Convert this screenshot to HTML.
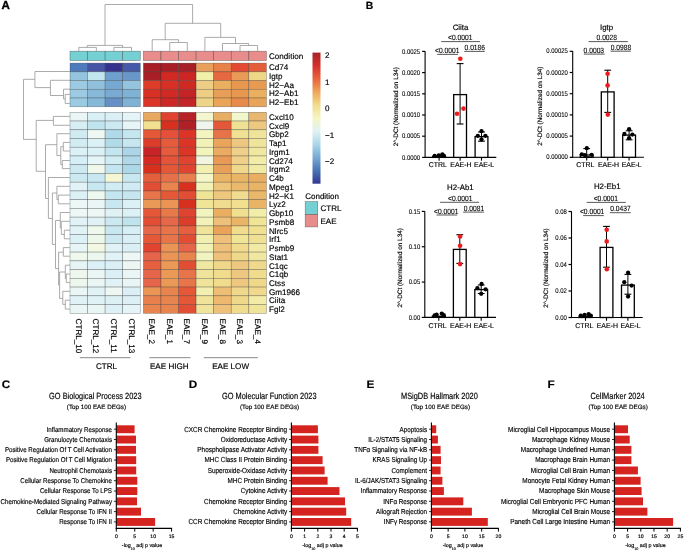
<!DOCTYPE html>
<html><head><meta charset="utf-8"><title>Figure</title>
<style>
html,body{margin:0;padding:0;background:#fff;}
svg{display:block;will-change:transform;filter:blur(0.3px);}
svg text{font-family:"Liberation Sans", sans-serif;fill:#000;stroke:#000;stroke-width:0.16px;text-rendering:geometricPrecision;}
</style></head>
<body>
<svg width="685" height="552" viewBox="0 0 685 552">
<rect width="685" height="552" fill="#fff"/>
<g>
<rect x="70.00" y="63.10" width="17.57" height="8.73" fill="#4F7BBD" stroke="rgba(40,40,40,0.45)" stroke-width="0.6" />
<rect x="87.57" y="63.10" width="17.57" height="8.73" fill="#4655A6" stroke="rgba(40,40,40,0.45)" stroke-width="0.6" />
<rect x="105.14" y="63.10" width="17.57" height="8.73" fill="#35318C" stroke="rgba(40,40,40,0.45)" stroke-width="0.6" />
<rect x="122.71" y="63.10" width="17.57" height="8.73" fill="#4658A8" stroke="rgba(40,40,40,0.45)" stroke-width="0.6" />
<rect x="143.40" y="63.10" width="17.57" height="8.73" fill="#A81E26" stroke="rgba(40,40,40,0.45)" stroke-width="0.6" />
<rect x="160.97" y="63.10" width="17.57" height="8.73" fill="#A81E26" stroke="rgba(40,40,40,0.45)" stroke-width="0.6" />
<rect x="178.54" y="63.10" width="17.57" height="8.73" fill="#A81E26" stroke="rgba(40,40,40,0.45)" stroke-width="0.6" />
<rect x="196.11" y="63.10" width="17.57" height="8.73" fill="#E8A05C" stroke="rgba(40,40,40,0.45)" stroke-width="0.6" />
<rect x="213.68" y="63.10" width="17.57" height="8.73" fill="#E8804A" stroke="rgba(40,40,40,0.45)" stroke-width="0.6" />
<rect x="231.25" y="63.10" width="17.57" height="8.73" fill="#E44A32" stroke="rgba(40,40,40,0.45)" stroke-width="0.6" />
<rect x="248.82" y="63.10" width="17.57" height="8.73" fill="#E45E3A" stroke="rgba(40,40,40,0.45)" stroke-width="0.6" />
<rect x="70.00" y="71.83" width="17.57" height="8.73" fill="#94C4DE" stroke="rgba(40,40,40,0.45)" stroke-width="0.6" />
<rect x="87.57" y="71.83" width="17.57" height="8.73" fill="#C2E6EE" stroke="rgba(40,40,40,0.45)" stroke-width="0.6" />
<rect x="105.14" y="71.83" width="17.57" height="8.73" fill="#6E9FCE" stroke="rgba(40,40,40,0.45)" stroke-width="0.6" />
<rect x="122.71" y="71.83" width="17.57" height="8.73" fill="#6A97CA" stroke="rgba(40,40,40,0.45)" stroke-width="0.6" />
<rect x="143.40" y="71.83" width="17.57" height="8.73" fill="#A81E26" stroke="rgba(40,40,40,0.45)" stroke-width="0.6" />
<rect x="160.97" y="71.83" width="17.57" height="8.73" fill="#D22A22" stroke="rgba(40,40,40,0.45)" stroke-width="0.6" />
<rect x="178.54" y="71.83" width="17.57" height="8.73" fill="#CC2624" stroke="rgba(40,40,40,0.45)" stroke-width="0.6" />
<rect x="196.11" y="71.83" width="17.57" height="8.73" fill="#F2F0A8" stroke="rgba(40,40,40,0.45)" stroke-width="0.6" />
<rect x="213.68" y="71.83" width="17.57" height="8.73" fill="#E66840" stroke="rgba(40,40,40,0.45)" stroke-width="0.6" />
<rect x="231.25" y="71.83" width="17.57" height="8.73" fill="#E89A56" stroke="rgba(40,40,40,0.45)" stroke-width="0.6" />
<rect x="248.82" y="71.83" width="17.57" height="8.73" fill="#EED888" stroke="rgba(40,40,40,0.45)" stroke-width="0.6" />
<rect x="70.00" y="80.56" width="17.57" height="8.73" fill="#9CCAE2" stroke="rgba(40,40,40,0.45)" stroke-width="0.6" />
<rect x="87.57" y="80.56" width="17.57" height="8.73" fill="#90C0DC" stroke="rgba(40,40,40,0.45)" stroke-width="0.6" />
<rect x="105.14" y="80.56" width="17.57" height="8.73" fill="#76A9D2" stroke="rgba(40,40,40,0.45)" stroke-width="0.6" />
<rect x="122.71" y="80.56" width="17.57" height="8.73" fill="#94C4DE" stroke="rgba(40,40,40,0.45)" stroke-width="0.6" />
<rect x="143.40" y="80.56" width="17.57" height="8.73" fill="#DC3C28" stroke="rgba(40,40,40,0.45)" stroke-width="0.6" />
<rect x="160.97" y="80.56" width="17.57" height="8.73" fill="#D83024" stroke="rgba(40,40,40,0.45)" stroke-width="0.6" />
<rect x="178.54" y="80.56" width="17.57" height="8.73" fill="#CE2A24" stroke="rgba(40,40,40,0.45)" stroke-width="0.6" />
<rect x="196.11" y="80.56" width="17.57" height="8.73" fill="#EECE84" stroke="rgba(40,40,40,0.45)" stroke-width="0.6" />
<rect x="213.68" y="80.56" width="17.57" height="8.73" fill="#EAB060" stroke="rgba(40,40,40,0.45)" stroke-width="0.6" />
<rect x="231.25" y="80.56" width="17.57" height="8.73" fill="#E8984E" stroke="rgba(40,40,40,0.45)" stroke-width="0.6" />
<rect x="248.82" y="80.56" width="17.57" height="8.73" fill="#E89A52" stroke="rgba(40,40,40,0.45)" stroke-width="0.6" />
<rect x="70.00" y="89.29" width="17.57" height="8.73" fill="#9CCAE2" stroke="rgba(40,40,40,0.45)" stroke-width="0.6" />
<rect x="87.57" y="89.29" width="17.57" height="8.73" fill="#88B9D8" stroke="rgba(40,40,40,0.45)" stroke-width="0.6" />
<rect x="105.14" y="89.29" width="17.57" height="8.73" fill="#78AAD2" stroke="rgba(40,40,40,0.45)" stroke-width="0.6" />
<rect x="122.71" y="89.29" width="17.57" height="8.73" fill="#80B2D6" stroke="rgba(40,40,40,0.45)" stroke-width="0.6" />
<rect x="143.40" y="89.29" width="17.57" height="8.73" fill="#D83024" stroke="rgba(40,40,40,0.45)" stroke-width="0.6" />
<rect x="160.97" y="89.29" width="17.57" height="8.73" fill="#D02A24" stroke="rgba(40,40,40,0.45)" stroke-width="0.6" />
<rect x="178.54" y="89.29" width="17.57" height="8.73" fill="#C42426" stroke="rgba(40,40,40,0.45)" stroke-width="0.6" />
<rect x="196.11" y="89.29" width="17.57" height="8.73" fill="#EECE84" stroke="rgba(40,40,40,0.45)" stroke-width="0.6" />
<rect x="213.68" y="89.29" width="17.57" height="8.73" fill="#E89E58" stroke="rgba(40,40,40,0.45)" stroke-width="0.6" />
<rect x="231.25" y="89.29" width="17.57" height="8.73" fill="#E8984E" stroke="rgba(40,40,40,0.45)" stroke-width="0.6" />
<rect x="248.82" y="89.29" width="17.57" height="8.73" fill="#EAB060" stroke="rgba(40,40,40,0.45)" stroke-width="0.6" />
<rect x="70.00" y="98.02" width="17.57" height="8.73" fill="#9CCAE2" stroke="rgba(40,40,40,0.45)" stroke-width="0.6" />
<rect x="87.57" y="98.02" width="17.57" height="8.73" fill="#86B8D8" stroke="rgba(40,40,40,0.45)" stroke-width="0.6" />
<rect x="105.14" y="98.02" width="17.57" height="8.73" fill="#6690C6" stroke="rgba(40,40,40,0.45)" stroke-width="0.6" />
<rect x="122.71" y="98.02" width="17.57" height="8.73" fill="#80B2D6" stroke="rgba(40,40,40,0.45)" stroke-width="0.6" />
<rect x="143.40" y="98.02" width="17.57" height="8.73" fill="#DC3428" stroke="rgba(40,40,40,0.45)" stroke-width="0.6" />
<rect x="160.97" y="98.02" width="17.57" height="8.73" fill="#CC2826" stroke="rgba(40,40,40,0.45)" stroke-width="0.6" />
<rect x="178.54" y="98.02" width="17.57" height="8.73" fill="#C22428" stroke="rgba(40,40,40,0.45)" stroke-width="0.6" />
<rect x="196.11" y="98.02" width="17.57" height="8.73" fill="#EED488" stroke="rgba(40,40,40,0.45)" stroke-width="0.6" />
<rect x="213.68" y="98.02" width="17.57" height="8.73" fill="#EAA458" stroke="rgba(40,40,40,0.45)" stroke-width="0.6" />
<rect x="231.25" y="98.02" width="17.57" height="8.73" fill="#E88A4C" stroke="rgba(40,40,40,0.45)" stroke-width="0.6" />
<rect x="248.82" y="98.02" width="17.57" height="8.73" fill="#E8A458" stroke="rgba(40,40,40,0.45)" stroke-width="0.6" />
<rect x="70.00" y="112.30" width="17.57" height="8.74" fill="#EAF6F6" stroke="rgba(40,40,40,0.45)" stroke-width="0.6" />
<rect x="87.57" y="112.30" width="17.57" height="8.74" fill="#D8F0F6" stroke="rgba(40,40,40,0.45)" stroke-width="0.6" />
<rect x="105.14" y="112.30" width="17.57" height="8.74" fill="#DAF0F6" stroke="rgba(40,40,40,0.45)" stroke-width="0.6" />
<rect x="122.71" y="112.30" width="17.57" height="8.74" fill="#E4F4F8" stroke="rgba(40,40,40,0.45)" stroke-width="0.6" />
<rect x="143.40" y="112.30" width="17.57" height="8.74" fill="#E8AA60" stroke="rgba(40,40,40,0.45)" stroke-width="0.6" />
<rect x="160.97" y="112.30" width="17.57" height="8.74" fill="#E04430" stroke="rgba(40,40,40,0.45)" stroke-width="0.6" />
<rect x="178.54" y="112.30" width="17.57" height="8.74" fill="#B82226" stroke="rgba(40,40,40,0.45)" stroke-width="0.6" />
<rect x="196.11" y="112.30" width="17.57" height="8.74" fill="#F4F6D0" stroke="rgba(40,40,40,0.45)" stroke-width="0.6" />
<rect x="213.68" y="112.30" width="17.57" height="8.74" fill="#E8AE66" stroke="rgba(40,40,40,0.45)" stroke-width="0.6" />
<rect x="231.25" y="112.30" width="17.57" height="8.74" fill="#F2F6CC" stroke="rgba(40,40,40,0.45)" stroke-width="0.6" />
<rect x="248.82" y="112.30" width="17.57" height="8.74" fill="#E8B870" stroke="rgba(40,40,40,0.45)" stroke-width="0.6" />
<rect x="70.00" y="121.04" width="17.57" height="8.74" fill="#D8EEF5" stroke="rgba(40,40,40,0.45)" stroke-width="0.6" />
<rect x="87.57" y="121.04" width="17.57" height="8.74" fill="#C0E4EE" stroke="rgba(40,40,40,0.45)" stroke-width="0.6" />
<rect x="105.14" y="121.04" width="17.57" height="8.74" fill="#CCE9F2" stroke="rgba(40,40,40,0.45)" stroke-width="0.6" />
<rect x="122.71" y="121.04" width="17.57" height="8.74" fill="#E6F5F8" stroke="rgba(40,40,40,0.45)" stroke-width="0.6" />
<rect x="143.40" y="121.04" width="17.57" height="8.74" fill="#F0E090" stroke="rgba(40,40,40,0.45)" stroke-width="0.6" />
<rect x="160.97" y="121.04" width="17.57" height="8.74" fill="#D8301F" stroke="rgba(40,40,40,0.45)" stroke-width="0.6" />
<rect x="178.54" y="121.04" width="17.57" height="8.74" fill="#B02026" stroke="rgba(40,40,40,0.45)" stroke-width="0.6" />
<rect x="196.11" y="121.04" width="17.57" height="8.74" fill="#F0F6EE" stroke="rgba(40,40,40,0.45)" stroke-width="0.6" />
<rect x="213.68" y="121.04" width="17.57" height="8.74" fill="#E25838" stroke="rgba(40,40,40,0.45)" stroke-width="0.6" />
<rect x="231.25" y="121.04" width="17.57" height="8.74" fill="#F0E294" stroke="rgba(40,40,40,0.45)" stroke-width="0.6" />
<rect x="248.82" y="121.04" width="17.57" height="8.74" fill="#EEC880" stroke="rgba(40,40,40,0.45)" stroke-width="0.6" />
<rect x="70.00" y="129.78" width="17.57" height="8.74" fill="#D0EBF2" stroke="rgba(40,40,40,0.45)" stroke-width="0.6" />
<rect x="87.57" y="129.78" width="17.57" height="8.74" fill="#EEF8F4" stroke="rgba(40,40,40,0.45)" stroke-width="0.6" />
<rect x="105.14" y="129.78" width="17.57" height="8.74" fill="#B0DAEA" stroke="rgba(40,40,40,0.45)" stroke-width="0.6" />
<rect x="122.71" y="129.78" width="17.57" height="8.74" fill="#C4E6EF" stroke="rgba(40,40,40,0.45)" stroke-width="0.6" />
<rect x="143.40" y="129.78" width="17.57" height="8.74" fill="#E45838" stroke="rgba(40,40,40,0.45)" stroke-width="0.6" />
<rect x="160.97" y="129.78" width="17.57" height="8.74" fill="#E4503A" stroke="rgba(40,40,40,0.45)" stroke-width="0.6" />
<rect x="178.54" y="129.78" width="17.57" height="8.74" fill="#DC3426" stroke="rgba(40,40,40,0.45)" stroke-width="0.6" />
<rect x="196.11" y="129.78" width="17.57" height="8.74" fill="#F4F4C0" stroke="rgba(40,40,40,0.45)" stroke-width="0.6" />
<rect x="213.68" y="129.78" width="17.57" height="8.74" fill="#E67448" stroke="rgba(40,40,40,0.45)" stroke-width="0.6" />
<rect x="231.25" y="129.78" width="17.57" height="8.74" fill="#F0E292" stroke="rgba(40,40,40,0.45)" stroke-width="0.6" />
<rect x="248.82" y="129.78" width="17.57" height="8.74" fill="#F0E49A" stroke="rgba(40,40,40,0.45)" stroke-width="0.6" />
<rect x="70.00" y="138.52" width="17.57" height="8.74" fill="#D2ECF4" stroke="rgba(40,40,40,0.45)" stroke-width="0.6" />
<rect x="87.57" y="138.52" width="17.57" height="8.74" fill="#DCF1F6" stroke="rgba(40,40,40,0.45)" stroke-width="0.6" />
<rect x="105.14" y="138.52" width="17.57" height="8.74" fill="#B2DBEA" stroke="rgba(40,40,40,0.45)" stroke-width="0.6" />
<rect x="122.71" y="138.52" width="17.57" height="8.74" fill="#C6E6F0" stroke="rgba(40,40,40,0.45)" stroke-width="0.6" />
<rect x="143.40" y="138.52" width="17.57" height="8.74" fill="#DC3C2A" stroke="rgba(40,40,40,0.45)" stroke-width="0.6" />
<rect x="160.97" y="138.52" width="17.57" height="8.74" fill="#E45C3C" stroke="rgba(40,40,40,0.45)" stroke-width="0.6" />
<rect x="178.54" y="138.52" width="17.57" height="8.74" fill="#DC3426" stroke="rgba(40,40,40,0.45)" stroke-width="0.6" />
<rect x="196.11" y="138.52" width="17.57" height="8.74" fill="#F2F2B8" stroke="rgba(40,40,40,0.45)" stroke-width="0.6" />
<rect x="213.68" y="138.52" width="17.57" height="8.74" fill="#EAA45C" stroke="rgba(40,40,40,0.45)" stroke-width="0.6" />
<rect x="231.25" y="138.52" width="17.57" height="8.74" fill="#EEC880" stroke="rgba(40,40,40,0.45)" stroke-width="0.6" />
<rect x="248.82" y="138.52" width="17.57" height="8.74" fill="#F0E49C" stroke="rgba(40,40,40,0.45)" stroke-width="0.6" />
<rect x="70.00" y="147.26" width="17.57" height="8.74" fill="#DCF1F6" stroke="rgba(40,40,40,0.45)" stroke-width="0.6" />
<rect x="87.57" y="147.26" width="17.57" height="8.74" fill="#DCF1F6" stroke="rgba(40,40,40,0.45)" stroke-width="0.6" />
<rect x="105.14" y="147.26" width="17.57" height="8.74" fill="#C4E6F0" stroke="rgba(40,40,40,0.45)" stroke-width="0.6" />
<rect x="122.71" y="147.26" width="17.57" height="8.74" fill="#ACD6E8" stroke="rgba(40,40,40,0.45)" stroke-width="0.6" />
<rect x="143.40" y="147.26" width="17.57" height="8.74" fill="#C82428" stroke="rgba(40,40,40,0.45)" stroke-width="0.6" />
<rect x="160.97" y="147.26" width="17.57" height="8.74" fill="#E45C3C" stroke="rgba(40,40,40,0.45)" stroke-width="0.6" />
<rect x="178.54" y="147.26" width="17.57" height="8.74" fill="#DC3426" stroke="rgba(40,40,40,0.45)" stroke-width="0.6" />
<rect x="196.11" y="147.26" width="17.57" height="8.74" fill="#F2F4BC" stroke="rgba(40,40,40,0.45)" stroke-width="0.6" />
<rect x="213.68" y="147.26" width="17.57" height="8.74" fill="#EAAC62" stroke="rgba(40,40,40,0.45)" stroke-width="0.6" />
<rect x="231.25" y="147.26" width="17.57" height="8.74" fill="#EED08A" stroke="rgba(40,40,40,0.45)" stroke-width="0.6" />
<rect x="248.82" y="147.26" width="17.57" height="8.74" fill="#F0E8A0" stroke="rgba(40,40,40,0.45)" stroke-width="0.6" />
<rect x="70.00" y="156.00" width="17.57" height="8.74" fill="#D6EEF5" stroke="rgba(40,40,40,0.45)" stroke-width="0.6" />
<rect x="87.57" y="156.00" width="17.57" height="8.74" fill="#E6F5F7" stroke="rgba(40,40,40,0.45)" stroke-width="0.6" />
<rect x="105.14" y="156.00" width="17.57" height="8.74" fill="#D2ECF4" stroke="rgba(40,40,40,0.45)" stroke-width="0.6" />
<rect x="122.71" y="156.00" width="17.57" height="8.74" fill="#B0D8E9" stroke="rgba(40,40,40,0.45)" stroke-width="0.6" />
<rect x="143.40" y="156.00" width="17.57" height="8.74" fill="#D42A24" stroke="rgba(40,40,40,0.45)" stroke-width="0.6" />
<rect x="160.97" y="156.00" width="17.57" height="8.74" fill="#E4543A" stroke="rgba(40,40,40,0.45)" stroke-width="0.6" />
<rect x="178.54" y="156.00" width="17.57" height="8.74" fill="#E04430" stroke="rgba(40,40,40,0.45)" stroke-width="0.6" />
<rect x="196.11" y="156.00" width="17.57" height="8.74" fill="#F2F6E0" stroke="rgba(40,40,40,0.45)" stroke-width="0.6" />
<rect x="213.68" y="156.00" width="17.57" height="8.74" fill="#E89A56" stroke="rgba(40,40,40,0.45)" stroke-width="0.6" />
<rect x="231.25" y="156.00" width="17.57" height="8.74" fill="#EED088" stroke="rgba(40,40,40,0.45)" stroke-width="0.6" />
<rect x="248.82" y="156.00" width="17.57" height="8.74" fill="#F2ECA8" stroke="rgba(40,40,40,0.45)" stroke-width="0.6" />
<rect x="70.00" y="164.73" width="17.57" height="8.74" fill="#CCE9F2" stroke="rgba(40,40,40,0.45)" stroke-width="0.6" />
<rect x="87.57" y="164.73" width="17.57" height="8.74" fill="#F0F8EC" stroke="rgba(40,40,40,0.45)" stroke-width="0.6" />
<rect x="105.14" y="164.73" width="17.57" height="8.74" fill="#C4E6F0" stroke="rgba(40,40,40,0.45)" stroke-width="0.6" />
<rect x="122.71" y="164.73" width="17.57" height="8.74" fill="#ACD8E8" stroke="rgba(40,40,40,0.45)" stroke-width="0.6" />
<rect x="143.40" y="164.73" width="17.57" height="8.74" fill="#D8301F" stroke="rgba(40,40,40,0.45)" stroke-width="0.6" />
<rect x="160.97" y="164.73" width="17.57" height="8.74" fill="#E45838" stroke="rgba(40,40,40,0.45)" stroke-width="0.6" />
<rect x="178.54" y="164.73" width="17.57" height="8.74" fill="#E04430" stroke="rgba(40,40,40,0.45)" stroke-width="0.6" />
<rect x="196.11" y="164.73" width="17.57" height="8.74" fill="#F2F0B0" stroke="rgba(40,40,40,0.45)" stroke-width="0.6" />
<rect x="213.68" y="164.73" width="17.57" height="8.74" fill="#E8A058" stroke="rgba(40,40,40,0.45)" stroke-width="0.6" />
<rect x="231.25" y="164.73" width="17.57" height="8.74" fill="#F0D88C" stroke="rgba(40,40,40,0.45)" stroke-width="0.6" />
<rect x="248.82" y="164.73" width="17.57" height="8.74" fill="#F0EAA4" stroke="rgba(40,40,40,0.45)" stroke-width="0.6" />
<rect x="70.00" y="173.47" width="17.57" height="8.74" fill="#CCE9F2" stroke="rgba(40,40,40,0.45)" stroke-width="0.6" />
<rect x="87.57" y="173.47" width="17.57" height="8.74" fill="#C8E7F1" stroke="rgba(40,40,40,0.45)" stroke-width="0.6" />
<rect x="105.14" y="173.47" width="17.57" height="8.74" fill="#F4F6D4" stroke="rgba(40,40,40,0.45)" stroke-width="0.6" />
<rect x="122.71" y="173.47" width="17.57" height="8.74" fill="#C8E8F1" stroke="rgba(40,40,40,0.45)" stroke-width="0.6" />
<rect x="143.40" y="173.47" width="17.57" height="8.74" fill="#E4603C" stroke="rgba(40,40,40,0.45)" stroke-width="0.6" />
<rect x="160.97" y="173.47" width="17.57" height="8.74" fill="#E6704A" stroke="rgba(40,40,40,0.45)" stroke-width="0.6" />
<rect x="178.54" y="173.47" width="17.57" height="8.74" fill="#E8804E" stroke="rgba(40,40,40,0.45)" stroke-width="0.6" />
<rect x="196.11" y="173.47" width="17.57" height="8.74" fill="#F4F6C8" stroke="rgba(40,40,40,0.45)" stroke-width="0.6" />
<rect x="213.68" y="173.47" width="17.57" height="8.74" fill="#EAB466" stroke="rgba(40,40,40,0.45)" stroke-width="0.6" />
<rect x="231.25" y="173.47" width="17.57" height="8.74" fill="#EAB466" stroke="rgba(40,40,40,0.45)" stroke-width="0.6" />
<rect x="248.82" y="173.47" width="17.57" height="8.74" fill="#EAAE62" stroke="rgba(40,40,40,0.45)" stroke-width="0.6" />
<rect x="70.00" y="182.21" width="17.57" height="8.74" fill="#E2F3F7" stroke="rgba(40,40,40,0.45)" stroke-width="0.6" />
<rect x="87.57" y="182.21" width="17.57" height="8.74" fill="#C8E8F1" stroke="rgba(40,40,40,0.45)" stroke-width="0.6" />
<rect x="105.14" y="182.21" width="17.57" height="8.74" fill="#D2ECF4" stroke="rgba(40,40,40,0.45)" stroke-width="0.6" />
<rect x="122.71" y="182.21" width="17.57" height="8.74" fill="#D0EBF3" stroke="rgba(40,40,40,0.45)" stroke-width="0.6" />
<rect x="143.40" y="182.21" width="17.57" height="8.74" fill="#E24E34" stroke="rgba(40,40,40,0.45)" stroke-width="0.6" />
<rect x="160.97" y="182.21" width="17.57" height="8.74" fill="#E8844E" stroke="rgba(40,40,40,0.45)" stroke-width="0.6" />
<rect x="178.54" y="182.21" width="17.57" height="8.74" fill="#D8301F" stroke="rgba(40,40,40,0.45)" stroke-width="0.6" />
<rect x="196.11" y="182.21" width="17.57" height="8.74" fill="#F2F2B8" stroke="rgba(40,40,40,0.45)" stroke-width="0.6" />
<rect x="213.68" y="182.21" width="17.57" height="8.74" fill="#EEC47A" stroke="rgba(40,40,40,0.45)" stroke-width="0.6" />
<rect x="231.25" y="182.21" width="17.57" height="8.74" fill="#EABA6C" stroke="rgba(40,40,40,0.45)" stroke-width="0.6" />
<rect x="248.82" y="182.21" width="17.57" height="8.74" fill="#EAB466" stroke="rgba(40,40,40,0.45)" stroke-width="0.6" />
<rect x="70.00" y="190.95" width="17.57" height="8.74" fill="#DCF1F6" stroke="rgba(40,40,40,0.45)" stroke-width="0.6" />
<rect x="87.57" y="190.95" width="17.57" height="8.74" fill="#EEF8EE" stroke="rgba(40,40,40,0.45)" stroke-width="0.6" />
<rect x="105.14" y="190.95" width="17.57" height="8.74" fill="#C4E6F0" stroke="rgba(40,40,40,0.45)" stroke-width="0.6" />
<rect x="122.71" y="190.95" width="17.57" height="8.74" fill="#C6E6F0" stroke="rgba(40,40,40,0.45)" stroke-width="0.6" />
<rect x="143.40" y="190.95" width="17.57" height="8.74" fill="#E8744A" stroke="rgba(40,40,40,0.45)" stroke-width="0.6" />
<rect x="160.97" y="190.95" width="17.57" height="8.74" fill="#E45838" stroke="rgba(40,40,40,0.45)" stroke-width="0.6" />
<rect x="178.54" y="190.95" width="17.57" height="8.74" fill="#E24E34" stroke="rgba(40,40,40,0.45)" stroke-width="0.6" />
<rect x="196.11" y="190.95" width="17.57" height="8.74" fill="#F0E496" stroke="rgba(40,40,40,0.45)" stroke-width="0.6" />
<rect x="213.68" y="190.95" width="17.57" height="8.74" fill="#EEC87E" stroke="rgba(40,40,40,0.45)" stroke-width="0.6" />
<rect x="231.25" y="190.95" width="17.57" height="8.74" fill="#F0DC90" stroke="rgba(40,40,40,0.45)" stroke-width="0.6" />
<rect x="248.82" y="190.95" width="17.57" height="8.74" fill="#EAB86A" stroke="rgba(40,40,40,0.45)" stroke-width="0.6" />
<rect x="70.00" y="199.69" width="17.57" height="8.74" fill="#ECF7F6" stroke="rgba(40,40,40,0.45)" stroke-width="0.6" />
<rect x="87.57" y="199.69" width="17.57" height="8.74" fill="#EAF6F6" stroke="rgba(40,40,40,0.45)" stroke-width="0.6" />
<rect x="105.14" y="199.69" width="17.57" height="8.74" fill="#C8E7F1" stroke="rgba(40,40,40,0.45)" stroke-width="0.6" />
<rect x="122.71" y="199.69" width="17.57" height="8.74" fill="#DCF1F6" stroke="rgba(40,40,40,0.45)" stroke-width="0.6" />
<rect x="143.40" y="199.69" width="17.57" height="8.74" fill="#EA9A56" stroke="rgba(40,40,40,0.45)" stroke-width="0.6" />
<rect x="160.97" y="199.69" width="17.57" height="8.74" fill="#EA9455" stroke="rgba(40,40,40,0.45)" stroke-width="0.6" />
<rect x="178.54" y="199.69" width="17.57" height="8.74" fill="#D8301F" stroke="rgba(40,40,40,0.45)" stroke-width="0.6" />
<rect x="196.11" y="199.69" width="17.57" height="8.74" fill="#F0E496" stroke="rgba(40,40,40,0.45)" stroke-width="0.6" />
<rect x="213.68" y="199.69" width="17.57" height="8.74" fill="#F0DC90" stroke="rgba(40,40,40,0.45)" stroke-width="0.6" />
<rect x="231.25" y="199.69" width="17.57" height="8.74" fill="#F0E090" stroke="rgba(40,40,40,0.45)" stroke-width="0.6" />
<rect x="248.82" y="199.69" width="17.57" height="8.74" fill="#EAB466" stroke="rgba(40,40,40,0.45)" stroke-width="0.6" />
<rect x="70.00" y="208.43" width="17.57" height="8.74" fill="#ECF7F6" stroke="rgba(40,40,40,0.45)" stroke-width="0.6" />
<rect x="87.57" y="208.43" width="17.57" height="8.74" fill="#ECF7F6" stroke="rgba(40,40,40,0.45)" stroke-width="0.6" />
<rect x="105.14" y="208.43" width="17.57" height="8.74" fill="#E0F2F6" stroke="rgba(40,40,40,0.45)" stroke-width="0.6" />
<rect x="122.71" y="208.43" width="17.57" height="8.74" fill="#DCF1F6" stroke="rgba(40,40,40,0.45)" stroke-width="0.6" />
<rect x="143.40" y="208.43" width="17.57" height="8.74" fill="#E45838" stroke="rgba(40,40,40,0.45)" stroke-width="0.6" />
<rect x="160.97" y="208.43" width="17.57" height="8.74" fill="#E87A4A" stroke="rgba(40,40,40,0.45)" stroke-width="0.6" />
<rect x="178.54" y="208.43" width="17.57" height="8.74" fill="#E04430" stroke="rgba(40,40,40,0.45)" stroke-width="0.6" />
<rect x="196.11" y="208.43" width="17.57" height="8.74" fill="#F2F4C0" stroke="rgba(40,40,40,0.45)" stroke-width="0.6" />
<rect x="213.68" y="208.43" width="17.57" height="8.74" fill="#EAAE62" stroke="rgba(40,40,40,0.45)" stroke-width="0.6" />
<rect x="231.25" y="208.43" width="17.57" height="8.74" fill="#F0E090" stroke="rgba(40,40,40,0.45)" stroke-width="0.6" />
<rect x="248.82" y="208.43" width="17.57" height="8.74" fill="#F2EEAA" stroke="rgba(40,40,40,0.45)" stroke-width="0.6" />
<rect x="70.00" y="217.17" width="17.57" height="8.74" fill="#E2F3F7" stroke="rgba(40,40,40,0.45)" stroke-width="0.6" />
<rect x="87.57" y="217.17" width="17.57" height="8.74" fill="#E0F2F6" stroke="rgba(40,40,40,0.45)" stroke-width="0.6" />
<rect x="105.14" y="217.17" width="17.57" height="8.74" fill="#CCE9F2" stroke="rgba(40,40,40,0.45)" stroke-width="0.6" />
<rect x="122.71" y="217.17" width="17.57" height="8.74" fill="#C0E4EE" stroke="rgba(40,40,40,0.45)" stroke-width="0.6" />
<rect x="143.40" y="217.17" width="17.57" height="8.74" fill="#E24E34" stroke="rgba(40,40,40,0.45)" stroke-width="0.6" />
<rect x="160.97" y="217.17" width="17.57" height="8.74" fill="#E6684A" stroke="rgba(40,40,40,0.45)" stroke-width="0.6" />
<rect x="178.54" y="217.17" width="17.57" height="8.74" fill="#DC3C2A" stroke="rgba(40,40,40,0.45)" stroke-width="0.6" />
<rect x="196.11" y="217.17" width="17.57" height="8.74" fill="#F2F2B8" stroke="rgba(40,40,40,0.45)" stroke-width="0.6" />
<rect x="213.68" y="217.17" width="17.57" height="8.74" fill="#EEC07A" stroke="rgba(40,40,40,0.45)" stroke-width="0.6" />
<rect x="231.25" y="217.17" width="17.57" height="8.74" fill="#EAB466" stroke="rgba(40,40,40,0.45)" stroke-width="0.6" />
<rect x="248.82" y="217.17" width="17.57" height="8.74" fill="#F0E496" stroke="rgba(40,40,40,0.45)" stroke-width="0.6" />
<rect x="70.00" y="225.91" width="17.57" height="8.74" fill="#E2F3F7" stroke="rgba(40,40,40,0.45)" stroke-width="0.6" />
<rect x="87.57" y="225.91" width="17.57" height="8.74" fill="#EEF8EC" stroke="rgba(40,40,40,0.45)" stroke-width="0.6" />
<rect x="105.14" y="225.91" width="17.57" height="8.74" fill="#C8E7F1" stroke="rgba(40,40,40,0.45)" stroke-width="0.6" />
<rect x="122.71" y="225.91" width="17.57" height="8.74" fill="#D6EEF5" stroke="rgba(40,40,40,0.45)" stroke-width="0.6" />
<rect x="143.40" y="225.91" width="17.57" height="8.74" fill="#E6684A" stroke="rgba(40,40,40,0.45)" stroke-width="0.6" />
<rect x="160.97" y="225.91" width="17.57" height="8.74" fill="#E8744A" stroke="rgba(40,40,40,0.45)" stroke-width="0.6" />
<rect x="178.54" y="225.91" width="17.57" height="8.74" fill="#E66040" stroke="rgba(40,40,40,0.45)" stroke-width="0.6" />
<rect x="196.11" y="225.91" width="17.57" height="8.74" fill="#F0E49A" stroke="rgba(40,40,40,0.45)" stroke-width="0.6" />
<rect x="213.68" y="225.91" width="17.57" height="8.74" fill="#EAA45A" stroke="rgba(40,40,40,0.45)" stroke-width="0.6" />
<rect x="231.25" y="225.91" width="17.57" height="8.74" fill="#F0DC8C" stroke="rgba(40,40,40,0.45)" stroke-width="0.6" />
<rect x="248.82" y="225.91" width="17.57" height="8.74" fill="#F0E090" stroke="rgba(40,40,40,0.45)" stroke-width="0.6" />
<rect x="70.00" y="234.65" width="17.57" height="8.74" fill="#DCF1F6" stroke="rgba(40,40,40,0.45)" stroke-width="0.6" />
<rect x="87.57" y="234.65" width="17.57" height="8.74" fill="#EEF8EA" stroke="rgba(40,40,40,0.45)" stroke-width="0.6" />
<rect x="105.14" y="234.65" width="17.57" height="8.74" fill="#CCE9F2" stroke="rgba(40,40,40,0.45)" stroke-width="0.6" />
<rect x="122.71" y="234.65" width="17.57" height="8.74" fill="#D8EFF5" stroke="rgba(40,40,40,0.45)" stroke-width="0.6" />
<rect x="143.40" y="234.65" width="17.57" height="8.74" fill="#E45838" stroke="rgba(40,40,40,0.45)" stroke-width="0.6" />
<rect x="160.97" y="234.65" width="17.57" height="8.74" fill="#E8744A" stroke="rgba(40,40,40,0.45)" stroke-width="0.6" />
<rect x="178.54" y="234.65" width="17.57" height="8.74" fill="#E24E34" stroke="rgba(40,40,40,0.45)" stroke-width="0.6" />
<rect x="196.11" y="234.65" width="17.57" height="8.74" fill="#F2F0B0" stroke="rgba(40,40,40,0.45)" stroke-width="0.6" />
<rect x="213.68" y="234.65" width="17.57" height="8.74" fill="#EEC07A" stroke="rgba(40,40,40,0.45)" stroke-width="0.6" />
<rect x="231.25" y="234.65" width="17.57" height="8.74" fill="#F0E496" stroke="rgba(40,40,40,0.45)" stroke-width="0.6" />
<rect x="248.82" y="234.65" width="17.57" height="8.74" fill="#F0E094" stroke="rgba(40,40,40,0.45)" stroke-width="0.6" />
<rect x="70.00" y="243.38" width="17.57" height="8.74" fill="#E8F5F6" stroke="rgba(40,40,40,0.45)" stroke-width="0.6" />
<rect x="87.57" y="243.38" width="17.57" height="8.74" fill="#F2F8E4" stroke="rgba(40,40,40,0.45)" stroke-width="0.6" />
<rect x="105.14" y="243.38" width="17.57" height="8.74" fill="#E0F2F6" stroke="rgba(40,40,40,0.45)" stroke-width="0.6" />
<rect x="122.71" y="243.38" width="17.57" height="8.74" fill="#DAF0F5" stroke="rgba(40,40,40,0.45)" stroke-width="0.6" />
<rect x="143.40" y="243.38" width="17.57" height="8.74" fill="#E04430" stroke="rgba(40,40,40,0.45)" stroke-width="0.6" />
<rect x="160.97" y="243.38" width="17.57" height="8.74" fill="#EA9455" stroke="rgba(40,40,40,0.45)" stroke-width="0.6" />
<rect x="178.54" y="243.38" width="17.57" height="8.74" fill="#E6644A" stroke="rgba(40,40,40,0.45)" stroke-width="0.6" />
<rect x="196.11" y="243.38" width="17.57" height="8.74" fill="#F2F2B6" stroke="rgba(40,40,40,0.45)" stroke-width="0.6" />
<rect x="213.68" y="243.38" width="17.57" height="8.74" fill="#EEC07A" stroke="rgba(40,40,40,0.45)" stroke-width="0.6" />
<rect x="231.25" y="243.38" width="17.57" height="8.74" fill="#F0DC8C" stroke="rgba(40,40,40,0.45)" stroke-width="0.6" />
<rect x="248.82" y="243.38" width="17.57" height="8.74" fill="#F2EAA4" stroke="rgba(40,40,40,0.45)" stroke-width="0.6" />
<rect x="70.00" y="252.12" width="17.57" height="8.74" fill="#EEF8EC" stroke="rgba(40,40,40,0.45)" stroke-width="0.6" />
<rect x="87.57" y="252.12" width="17.57" height="8.74" fill="#ECF7F0" stroke="rgba(40,40,40,0.45)" stroke-width="0.6" />
<rect x="105.14" y="252.12" width="17.57" height="8.74" fill="#E2F3F7" stroke="rgba(40,40,40,0.45)" stroke-width="0.6" />
<rect x="122.71" y="252.12" width="17.57" height="8.74" fill="#ECF7F6" stroke="rgba(40,40,40,0.45)" stroke-width="0.6" />
<rect x="143.40" y="252.12" width="17.57" height="8.74" fill="#E6644A" stroke="rgba(40,40,40,0.45)" stroke-width="0.6" />
<rect x="160.97" y="252.12" width="17.57" height="8.74" fill="#EA9455" stroke="rgba(40,40,40,0.45)" stroke-width="0.6" />
<rect x="178.54" y="252.12" width="17.57" height="8.74" fill="#E8844E" stroke="rgba(40,40,40,0.45)" stroke-width="0.6" />
<rect x="196.11" y="252.12" width="17.57" height="8.74" fill="#F2F4C0" stroke="rgba(40,40,40,0.45)" stroke-width="0.6" />
<rect x="213.68" y="252.12" width="17.57" height="8.74" fill="#EEC07A" stroke="rgba(40,40,40,0.45)" stroke-width="0.6" />
<rect x="231.25" y="252.12" width="17.57" height="8.74" fill="#F0D88A" stroke="rgba(40,40,40,0.45)" stroke-width="0.6" />
<rect x="248.82" y="252.12" width="17.57" height="8.74" fill="#F0E8A0" stroke="rgba(40,40,40,0.45)" stroke-width="0.6" />
<rect x="70.00" y="260.86" width="17.57" height="8.74" fill="#E6F4F6" stroke="rgba(40,40,40,0.45)" stroke-width="0.6" />
<rect x="87.57" y="260.86" width="17.57" height="8.74" fill="#DCF0F8" stroke="rgba(40,40,40,0.45)" stroke-width="0.6" />
<rect x="105.14" y="260.86" width="17.57" height="8.74" fill="#DAF0F6" stroke="rgba(40,40,40,0.45)" stroke-width="0.6" />
<rect x="122.71" y="260.86" width="17.57" height="8.74" fill="#ECF7F4" stroke="rgba(40,40,40,0.45)" stroke-width="0.6" />
<rect x="143.40" y="260.86" width="17.57" height="8.74" fill="#E66040" stroke="rgba(40,40,40,0.45)" stroke-width="0.6" />
<rect x="160.97" y="260.86" width="17.57" height="8.74" fill="#EA9A56" stroke="rgba(40,40,40,0.45)" stroke-width="0.6" />
<rect x="178.54" y="260.86" width="17.57" height="8.74" fill="#E24E34" stroke="rgba(40,40,40,0.45)" stroke-width="0.6" />
<rect x="196.11" y="260.86" width="17.57" height="8.74" fill="#F0E8A0" stroke="rgba(40,40,40,0.45)" stroke-width="0.6" />
<rect x="213.68" y="260.86" width="17.57" height="8.74" fill="#F0D88A" stroke="rgba(40,40,40,0.45)" stroke-width="0.6" />
<rect x="231.25" y="260.86" width="17.57" height="8.74" fill="#EEC880" stroke="rgba(40,40,40,0.45)" stroke-width="0.6" />
<rect x="248.82" y="260.86" width="17.57" height="8.74" fill="#F0D88C" stroke="rgba(40,40,40,0.45)" stroke-width="0.6" />
<rect x="70.00" y="269.60" width="17.57" height="8.74" fill="#EEF7EE" stroke="rgba(40,40,40,0.45)" stroke-width="0.6" />
<rect x="87.57" y="269.60" width="17.57" height="8.74" fill="#EAF6F6" stroke="rgba(40,40,40,0.45)" stroke-width="0.6" />
<rect x="105.14" y="269.60" width="17.57" height="8.74" fill="#DAF0F6" stroke="rgba(40,40,40,0.45)" stroke-width="0.6" />
<rect x="122.71" y="269.60" width="17.57" height="8.74" fill="#EAF6F6" stroke="rgba(40,40,40,0.45)" stroke-width="0.6" />
<rect x="143.40" y="269.60" width="17.57" height="8.74" fill="#E6644A" stroke="rgba(40,40,40,0.45)" stroke-width="0.6" />
<rect x="160.97" y="269.60" width="17.57" height="8.74" fill="#EA9A56" stroke="rgba(40,40,40,0.45)" stroke-width="0.6" />
<rect x="178.54" y="269.60" width="17.57" height="8.74" fill="#E8744A" stroke="rgba(40,40,40,0.45)" stroke-width="0.6" />
<rect x="196.11" y="269.60" width="17.57" height="8.74" fill="#F0E49A" stroke="rgba(40,40,40,0.45)" stroke-width="0.6" />
<rect x="213.68" y="269.60" width="17.57" height="8.74" fill="#F0DC8C" stroke="rgba(40,40,40,0.45)" stroke-width="0.6" />
<rect x="231.25" y="269.60" width="17.57" height="8.74" fill="#EEC880" stroke="rgba(40,40,40,0.45)" stroke-width="0.6" />
<rect x="248.82" y="269.60" width="17.57" height="8.74" fill="#F0DC8C" stroke="rgba(40,40,40,0.45)" stroke-width="0.6" />
<rect x="70.00" y="278.34" width="17.57" height="8.74" fill="#EEF7EE" stroke="rgba(40,40,40,0.45)" stroke-width="0.6" />
<rect x="87.57" y="278.34" width="17.57" height="8.74" fill="#EAF6F6" stroke="rgba(40,40,40,0.45)" stroke-width="0.6" />
<rect x="105.14" y="278.34" width="17.57" height="8.74" fill="#E0F2F6" stroke="rgba(40,40,40,0.45)" stroke-width="0.6" />
<rect x="122.71" y="278.34" width="17.57" height="8.74" fill="#EAF6F6" stroke="rgba(40,40,40,0.45)" stroke-width="0.6" />
<rect x="143.40" y="278.34" width="17.57" height="8.74" fill="#E6644A" stroke="rgba(40,40,40,0.45)" stroke-width="0.6" />
<rect x="160.97" y="278.34" width="17.57" height="8.74" fill="#EA9A56" stroke="rgba(40,40,40,0.45)" stroke-width="0.6" />
<rect x="178.54" y="278.34" width="17.57" height="8.74" fill="#E8744A" stroke="rgba(40,40,40,0.45)" stroke-width="0.6" />
<rect x="196.11" y="278.34" width="17.57" height="8.74" fill="#F0E49A" stroke="rgba(40,40,40,0.45)" stroke-width="0.6" />
<rect x="213.68" y="278.34" width="17.57" height="8.74" fill="#F0DC8C" stroke="rgba(40,40,40,0.45)" stroke-width="0.6" />
<rect x="231.25" y="278.34" width="17.57" height="8.74" fill="#EEC880" stroke="rgba(40,40,40,0.45)" stroke-width="0.6" />
<rect x="248.82" y="278.34" width="17.57" height="8.74" fill="#F0D88A" stroke="rgba(40,40,40,0.45)" stroke-width="0.6" />
<rect x="70.00" y="287.08" width="17.57" height="8.74" fill="#EAF6F6" stroke="rgba(40,40,40,0.45)" stroke-width="0.6" />
<rect x="87.57" y="287.08" width="17.57" height="8.74" fill="#E0F2F6" stroke="rgba(40,40,40,0.45)" stroke-width="0.6" />
<rect x="105.14" y="287.08" width="17.57" height="8.74" fill="#EEF7F2" stroke="rgba(40,40,40,0.45)" stroke-width="0.6" />
<rect x="122.71" y="287.08" width="17.57" height="8.74" fill="#DAF0F6" stroke="rgba(40,40,40,0.45)" stroke-width="0.6" />
<rect x="143.40" y="287.08" width="17.57" height="8.74" fill="#EA9455" stroke="rgba(40,40,40,0.45)" stroke-width="0.6" />
<rect x="160.97" y="287.08" width="17.57" height="8.74" fill="#E8844E" stroke="rgba(40,40,40,0.45)" stroke-width="0.6" />
<rect x="178.54" y="287.08" width="17.57" height="8.74" fill="#E45838" stroke="rgba(40,40,40,0.45)" stroke-width="0.6" />
<rect x="196.11" y="287.08" width="17.57" height="8.74" fill="#F2F0B0" stroke="rgba(40,40,40,0.45)" stroke-width="0.6" />
<rect x="213.68" y="287.08" width="17.57" height="8.74" fill="#EEBE74" stroke="rgba(40,40,40,0.45)" stroke-width="0.6" />
<rect x="231.25" y="287.08" width="17.57" height="8.74" fill="#F0D88A" stroke="rgba(40,40,40,0.45)" stroke-width="0.6" />
<rect x="248.82" y="287.08" width="17.57" height="8.74" fill="#F0D88C" stroke="rgba(40,40,40,0.45)" stroke-width="0.6" />
<rect x="70.00" y="295.82" width="17.57" height="8.74" fill="#E0F2F6" stroke="rgba(40,40,40,0.45)" stroke-width="0.6" />
<rect x="87.57" y="295.82" width="17.57" height="8.74" fill="#E0F2F6" stroke="rgba(40,40,40,0.45)" stroke-width="0.6" />
<rect x="105.14" y="295.82" width="17.57" height="8.74" fill="#DCF0F6" stroke="rgba(40,40,40,0.45)" stroke-width="0.6" />
<rect x="122.71" y="295.82" width="17.57" height="8.74" fill="#DCF0F6" stroke="rgba(40,40,40,0.45)" stroke-width="0.6" />
<rect x="143.40" y="295.82" width="17.57" height="8.74" fill="#E8804E" stroke="rgba(40,40,40,0.45)" stroke-width="0.6" />
<rect x="160.97" y="295.82" width="17.57" height="8.74" fill="#E8844E" stroke="rgba(40,40,40,0.45)" stroke-width="0.6" />
<rect x="178.54" y="295.82" width="17.57" height="8.74" fill="#E45838" stroke="rgba(40,40,40,0.45)" stroke-width="0.6" />
<rect x="196.11" y="295.82" width="17.57" height="8.74" fill="#F0E49A" stroke="rgba(40,40,40,0.45)" stroke-width="0.6" />
<rect x="213.68" y="295.82" width="17.57" height="8.74" fill="#EEB870" stroke="rgba(40,40,40,0.45)" stroke-width="0.6" />
<rect x="231.25" y="295.82" width="17.57" height="8.74" fill="#F0D88A" stroke="rgba(40,40,40,0.45)" stroke-width="0.6" />
<rect x="248.82" y="295.82" width="17.57" height="8.74" fill="#F2ECA8" stroke="rgba(40,40,40,0.45)" stroke-width="0.6" />
<rect x="70.00" y="304.56" width="17.57" height="8.74" fill="#EAF6F6" stroke="rgba(40,40,40,0.45)" stroke-width="0.6" />
<rect x="87.57" y="304.56" width="17.57" height="8.74" fill="#EAF6F4" stroke="rgba(40,40,40,0.45)" stroke-width="0.6" />
<rect x="105.14" y="304.56" width="17.57" height="8.74" fill="#DCF0F6" stroke="rgba(40,40,40,0.45)" stroke-width="0.6" />
<rect x="122.71" y="304.56" width="17.57" height="8.74" fill="#E4F4F8" stroke="rgba(40,40,40,0.45)" stroke-width="0.6" />
<rect x="143.40" y="304.56" width="17.57" height="8.74" fill="#E8844E" stroke="rgba(40,40,40,0.45)" stroke-width="0.6" />
<rect x="160.97" y="304.56" width="17.57" height="8.74" fill="#E8844E" stroke="rgba(40,40,40,0.45)" stroke-width="0.6" />
<rect x="178.54" y="304.56" width="17.57" height="8.74" fill="#E24E34" stroke="rgba(40,40,40,0.45)" stroke-width="0.6" />
<rect x="196.11" y="304.56" width="17.57" height="8.74" fill="#F0E49A" stroke="rgba(40,40,40,0.45)" stroke-width="0.6" />
<rect x="213.68" y="304.56" width="17.57" height="8.74" fill="#EEC07A" stroke="rgba(40,40,40,0.45)" stroke-width="0.6" />
<rect x="231.25" y="304.56" width="17.57" height="8.74" fill="#F0DC8C" stroke="rgba(40,40,40,0.45)" stroke-width="0.6" />
<rect x="248.82" y="304.56" width="17.57" height="8.74" fill="#F0E49A" stroke="rgba(40,40,40,0.45)" stroke-width="0.6" />
</g>
<rect x="70.00" y="51.20" width="17.57" height="9.30" fill="#74D0D2" stroke="rgba(60,60,60,0.6)" stroke-width="0.6" />
<rect x="87.57" y="51.20" width="17.57" height="9.30" fill="#74D0D2" stroke="rgba(60,60,60,0.6)" stroke-width="0.6" />
<rect x="105.14" y="51.20" width="17.57" height="9.30" fill="#74D0D2" stroke="rgba(60,60,60,0.6)" stroke-width="0.6" />
<rect x="122.71" y="51.20" width="17.57" height="9.30" fill="#74D0D2" stroke="rgba(60,60,60,0.6)" stroke-width="0.6" />
<rect x="143.40" y="51.20" width="17.57" height="9.30" fill="#E88C8C" stroke="rgba(60,60,60,0.6)" stroke-width="0.6" />
<rect x="160.97" y="51.20" width="17.57" height="9.30" fill="#E88C8C" stroke="rgba(60,60,60,0.6)" stroke-width="0.6" />
<rect x="178.54" y="51.20" width="17.57" height="9.30" fill="#E88C8C" stroke="rgba(60,60,60,0.6)" stroke-width="0.6" />
<rect x="196.11" y="51.20" width="17.57" height="9.30" fill="#E88C8C" stroke="rgba(60,60,60,0.6)" stroke-width="0.6" />
<rect x="213.68" y="51.20" width="17.57" height="9.30" fill="#E88C8C" stroke="rgba(60,60,60,0.6)" stroke-width="0.6" />
<rect x="231.25" y="51.20" width="17.57" height="9.30" fill="#E88C8C" stroke="rgba(60,60,60,0.6)" stroke-width="0.6" />
<rect x="248.82" y="51.20" width="17.57" height="9.30" fill="#E88C8C" stroke="rgba(60,60,60,0.6)" stroke-width="0.6" />
<text transform="translate(269.00,70.27) scale(1.0,1)" font-size="8.100" text-anchor="start" >Cd74</text>
<text transform="translate(269.00,78.99) scale(1.0,1)" font-size="8.100" text-anchor="start" >Igtp</text>
<text transform="translate(269.00,87.72) scale(1.0,1)" font-size="8.100" text-anchor="start" >H2−Aa</text>
<text transform="translate(269.00,96.45) scale(1.0,1)" font-size="8.100" text-anchor="start" >H2−Ab1</text>
<text transform="translate(269.00,105.19) scale(1.0,1)" font-size="8.100" text-anchor="start" >H2−Eb1</text>
<text transform="translate(269.00,119.97) scale(1.0,1)" font-size="8.100" text-anchor="start" >Cxcl10</text>
<text transform="translate(269.00,128.71) scale(1.0,1)" font-size="8.100" text-anchor="start" >Cxcl9</text>
<text transform="translate(269.00,137.45) scale(1.0,1)" font-size="8.100" text-anchor="start" >Gbp2</text>
<text transform="translate(269.00,146.19) scale(1.0,1)" font-size="8.100" text-anchor="start" >Tap1</text>
<text transform="translate(269.00,154.93) scale(1.0,1)" font-size="8.100" text-anchor="start" >Irgm1</text>
<text transform="translate(269.00,163.66) scale(1.0,1)" font-size="8.100" text-anchor="start" >Cd274</text>
<text transform="translate(269.00,172.40) scale(1.0,1)" font-size="8.100" text-anchor="start" >Irgm2</text>
<text transform="translate(269.00,181.14) scale(1.0,1)" font-size="8.100" text-anchor="start" >C4b</text>
<text transform="translate(269.00,189.88) scale(1.0,1)" font-size="8.100" text-anchor="start" >Mpeg1</text>
<text transform="translate(269.00,198.62) scale(1.0,1)" font-size="8.100" text-anchor="start" >H2−K1</text>
<text transform="translate(269.00,207.36) scale(1.0,1)" font-size="8.100" text-anchor="start" >Lyz2</text>
<text transform="translate(269.00,216.10) scale(1.0,1)" font-size="8.100" text-anchor="start" >Gbp10</text>
<text transform="translate(269.00,224.84) scale(1.0,1)" font-size="8.100" text-anchor="start" >Psmb8</text>
<text transform="translate(269.00,233.58) scale(1.0,1)" font-size="8.100" text-anchor="start" >Nlrc5</text>
<text transform="translate(269.00,242.32) scale(1.0,1)" font-size="8.100" text-anchor="start" >Irf1</text>
<text transform="translate(269.00,251.05) scale(1.0,1)" font-size="8.100" text-anchor="start" >Psmb9</text>
<text transform="translate(269.00,259.79) scale(1.0,1)" font-size="8.100" text-anchor="start" >Stat1</text>
<text transform="translate(269.00,268.53) scale(1.0,1)" font-size="8.100" text-anchor="start" >C1qc</text>
<text transform="translate(269.00,277.27) scale(1.0,1)" font-size="8.100" text-anchor="start" >C1qb</text>
<text transform="translate(269.00,286.01) scale(1.0,1)" font-size="8.100" text-anchor="start" >Ctss</text>
<text transform="translate(269.00,294.75) scale(1.0,1)" font-size="8.100" text-anchor="start" >Gm1966</text>
<text transform="translate(269.00,303.49) scale(1.0,1)" font-size="8.100" text-anchor="start" >Ciita</text>
<text transform="translate(269.00,312.23) scale(1.0,1)" font-size="8.100" text-anchor="start" >Fgl2</text>
<text transform="translate(269.00,59.10) scale(1.0,1)" font-size="8.100" text-anchor="start" >Condition</text>
<text transform="translate(75.88,318.6) rotate(90) scale(1.0,1)" font-size="8.150">CTRL_10</text>
<text transform="translate(93.45,318.6) rotate(90) scale(1.0,1)" font-size="8.150">CTRL_12</text>
<text transform="translate(111.02,318.6) rotate(90) scale(1.0,1)" font-size="8.150">CTRL_11</text>
<text transform="translate(128.59,318.6) rotate(90) scale(1.0,1)" font-size="8.150">CTRL_13</text>
<text transform="translate(149.28,318.6) rotate(90) scale(1.0,1)" font-size="8.150">EAE_2</text>
<text transform="translate(166.85,318.6) rotate(90) scale(1.0,1)" font-size="8.150">EAE_1</text>
<text transform="translate(184.43,318.6) rotate(90) scale(1.0,1)" font-size="8.150">EAE_7</text>
<text transform="translate(202.00,318.6) rotate(90) scale(1.0,1)" font-size="8.150">EAE_9</text>
<text transform="translate(219.56,318.6) rotate(90) scale(1.0,1)" font-size="8.150">EAE_8</text>
<text transform="translate(237.13,318.6) rotate(90) scale(1.0,1)" font-size="8.150">EAE_3</text>
<text transform="translate(254.71,318.6) rotate(90) scale(1.0,1)" font-size="8.150">EAE_4</text>
<line x1="79.80" y1="357.70" x2="130.50" y2="357.70" stroke="#8a8a8a" stroke-width="1" />
<line x1="149.40" y1="357.70" x2="190.50" y2="357.70" stroke="#8a8a8a" stroke-width="1" />
<line x1="203.80" y1="357.70" x2="257.90" y2="357.70" stroke="#8a8a8a" stroke-width="1" />
<text transform="translate(106.50,368.60) scale(1.0,1)" font-size="8.100" text-anchor="middle" >CTRL</text>
<text transform="translate(169.30,368.60) scale(1.0,1)" font-size="8.100" text-anchor="middle" >EAE HIGH</text>
<text transform="translate(230.60,368.60) scale(1.0,1)" font-size="8.100" text-anchor="middle" >EAE LOW</text>
<path d="M78.78,51.20 L78.78,47.40 L96.35,47.40 L96.35,51.20" fill="none" stroke="#9c9c9c" stroke-width="0.85"/>
<path d="M113.92,51.20 L113.92,47.40 L131.50,47.40 L131.50,51.20" fill="none" stroke="#9c9c9c" stroke-width="0.85"/>
<path d="M87.30,47.40 L87.30,45.40 L122.60,45.40 L122.60,47.40" fill="none" stroke="#9c9c9c" stroke-width="0.85"/>
<path d="M105.00,45.40 L105.00,4.50 L192.60,4.50 L192.60,23.30" fill="none" stroke="#9c9c9c" stroke-width="0.85"/>
<path d="M169.75,51.20 L169.75,42.50 L187.33,42.50 L187.33,51.20" fill="none" stroke="#9c9c9c" stroke-width="0.85"/>
<path d="M152.19,51.20 L152.19,39.70 L178.60,39.70 L178.60,42.50" fill="none" stroke="#9c9c9c" stroke-width="0.85"/>
<path d="M240.03,51.20 L240.03,45.50 L257.61,45.50 L257.61,51.20" fill="none" stroke="#9c9c9c" stroke-width="0.85"/>
<path d="M222.47,51.20 L222.47,43.50 L248.60,43.50 L248.60,45.50" fill="none" stroke="#9c9c9c" stroke-width="0.85"/>
<path d="M204.90,51.20 L204.90,37.40 L235.50,37.40 L235.50,43.50" fill="none" stroke="#9c9c9c" stroke-width="0.85"/>
<path d="M165.20,39.70 L165.20,23.30 L220.70,23.30 L220.70,37.40" fill="none" stroke="#9c9c9c" stroke-width="0.85"/>
<path d="M34.90,71.50 L70.00,71.50" fill="none" stroke="#9c9c9c" stroke-width="0.85"/>
<path d="M50.40,80.30 L70.00,80.30" fill="none" stroke="#9c9c9c" stroke-width="0.85"/>
<path d="M63.50,89.20 L70.00,89.20" fill="none" stroke="#9c9c9c" stroke-width="0.85"/>
<path d="M65.20,94.40 L70.00,94.40" fill="none" stroke="#9c9c9c" stroke-width="0.85"/>
<path d="M65.20,103.40 L70.00,103.40" fill="none" stroke="#9c9c9c" stroke-width="0.85"/>
<path d="M65.20,94.40 L65.20,103.40" fill="none" stroke="#9c9c9c" stroke-width="0.85"/>
<path d="M63.50,98.90 L65.20,98.90" fill="none" stroke="#9c9c9c" stroke-width="0.85"/>
<path d="M63.50,89.20 L63.50,98.90" fill="none" stroke="#9c9c9c" stroke-width="0.85"/>
<path d="M50.40,95.50 L63.50,95.50" fill="none" stroke="#9c9c9c" stroke-width="0.85"/>
<path d="M50.40,80.30 L50.40,95.50" fill="none" stroke="#9c9c9c" stroke-width="0.85"/>
<path d="M34.90,87.60 L50.40,87.60" fill="none" stroke="#9c9c9c" stroke-width="0.85"/>
<path d="M34.90,71.50 L34.90,87.60" fill="none" stroke="#9c9c9c" stroke-width="0.85"/>
<path d="M23.50,79.30 L34.90,79.30" fill="none" stroke="#9c9c9c" stroke-width="0.85"/>
<path d="M23.50,79.30 L23.50,139.40" fill="none" stroke="#9c9c9c" stroke-width="0.85"/>
<path d="M23.50,139.40 L36.20,139.40" fill="none" stroke="#9c9c9c" stroke-width="0.85"/>
<path d="M36.20,120.40 L36.20,171.30" fill="none" stroke="#9c9c9c" stroke-width="0.85"/>
<path d="M53.40,116.40 L70.00,116.40" fill="none" stroke="#9c9c9c" stroke-width="0.85"/>
<path d="M53.40,125.30 L70.00,125.30" fill="none" stroke="#9c9c9c" stroke-width="0.85"/>
<path d="M53.40,116.40 L53.40,125.30" fill="none" stroke="#9c9c9c" stroke-width="0.85"/>
<path d="M36.20,120.40 L53.40,120.40" fill="none" stroke="#9c9c9c" stroke-width="0.85"/>
<path d="M36.20,171.30 L45.50,171.30" fill="none" stroke="#9c9c9c" stroke-width="0.85"/>
<path d="M45.50,144.70 L45.50,198.50" fill="none" stroke="#9c9c9c" stroke-width="0.85"/>
<path d="M56.90,133.70 L70.00,133.70" fill="none" stroke="#9c9c9c" stroke-width="0.85"/>
<path d="M56.90,133.70 L56.90,155.60" fill="none" stroke="#9c9c9c" stroke-width="0.85"/>
<path d="M45.50,144.70 L56.90,144.70" fill="none" stroke="#9c9c9c" stroke-width="0.85"/>
<path d="M63.30,142.40 L70.00,142.40" fill="none" stroke="#9c9c9c" stroke-width="0.85"/>
<path d="M63.30,151.00 L70.00,151.00" fill="none" stroke="#9c9c9c" stroke-width="0.85"/>
<path d="M63.30,142.40 L63.30,151.00" fill="none" stroke="#9c9c9c" stroke-width="0.85"/>
<path d="M60.80,146.70 L63.30,146.70" fill="none" stroke="#9c9c9c" stroke-width="0.85"/>
<path d="M62.30,160.50 L70.00,160.50" fill="none" stroke="#9c9c9c" stroke-width="0.85"/>
<path d="M62.30,168.60 L70.00,168.60" fill="none" stroke="#9c9c9c" stroke-width="0.85"/>
<path d="M62.30,160.50 L62.30,168.60" fill="none" stroke="#9c9c9c" stroke-width="0.85"/>
<path d="M60.80,164.50 L62.30,164.50" fill="none" stroke="#9c9c9c" stroke-width="0.85"/>
<path d="M60.80,146.70 L60.80,164.50" fill="none" stroke="#9c9c9c" stroke-width="0.85"/>
<path d="M56.90,155.60 L60.80,155.60" fill="none" stroke="#9c9c9c" stroke-width="0.85"/>
<path d="M45.50,198.50 L48.40,198.50" fill="none" stroke="#9c9c9c" stroke-width="0.85"/>
<path d="M48.40,177.50 L70.00,177.50" fill="none" stroke="#9c9c9c" stroke-width="0.85"/>
<path d="M48.40,177.50 L48.40,218.40" fill="none" stroke="#9c9c9c" stroke-width="0.85"/>
<path d="M48.40,218.40 L52.40,218.40" fill="none" stroke="#9c9c9c" stroke-width="0.85"/>
<path d="M52.40,193.00 L52.40,244.40" fill="none" stroke="#9c9c9c" stroke-width="0.85"/>
<path d="M52.40,193.00 L56.90,193.00" fill="none" stroke="#9c9c9c" stroke-width="0.85"/>
<path d="M56.90,186.30 L70.00,186.30" fill="none" stroke="#9c9c9c" stroke-width="0.85"/>
<path d="M56.90,186.30 L56.90,199.50" fill="none" stroke="#9c9c9c" stroke-width="0.85"/>
<path d="M56.90,199.50 L58.30,199.50" fill="none" stroke="#9c9c9c" stroke-width="0.85"/>
<path d="M58.30,195.10 L70.00,195.10" fill="none" stroke="#9c9c9c" stroke-width="0.85"/>
<path d="M58.30,203.80 L70.00,203.80" fill="none" stroke="#9c9c9c" stroke-width="0.85"/>
<path d="M58.30,195.10 L58.30,203.80" fill="none" stroke="#9c9c9c" stroke-width="0.85"/>
<path d="M52.40,244.40 L55.50,244.40" fill="none" stroke="#9c9c9c" stroke-width="0.85"/>
<path d="M55.50,220.40 L55.50,268.60" fill="none" stroke="#9c9c9c" stroke-width="0.85"/>
<path d="M55.50,220.40 L60.30,220.40" fill="none" stroke="#9c9c9c" stroke-width="0.85"/>
<path d="M60.30,212.50 L70.00,212.50" fill="none" stroke="#9c9c9c" stroke-width="0.85"/>
<path d="M60.30,212.50 L60.30,228.00" fill="none" stroke="#9c9c9c" stroke-width="0.85"/>
<path d="M60.30,228.00 L61.30,228.00" fill="none" stroke="#9c9c9c" stroke-width="0.85"/>
<path d="M61.30,221.30 L70.00,221.30" fill="none" stroke="#9c9c9c" stroke-width="0.85"/>
<path d="M61.30,221.30 L61.30,234.50" fill="none" stroke="#9c9c9c" stroke-width="0.85"/>
<path d="M61.30,234.50 L64.30,234.50" fill="none" stroke="#9c9c9c" stroke-width="0.85"/>
<path d="M64.30,230.20 L70.00,230.20" fill="none" stroke="#9c9c9c" stroke-width="0.85"/>
<path d="M64.30,238.80 L70.00,238.80" fill="none" stroke="#9c9c9c" stroke-width="0.85"/>
<path d="M64.30,230.20 L64.30,238.80" fill="none" stroke="#9c9c9c" stroke-width="0.85"/>
<path d="M55.50,268.60 L58.60,268.60" fill="none" stroke="#9c9c9c" stroke-width="0.85"/>
<path d="M58.60,252.20 L58.60,285.10" fill="none" stroke="#9c9c9c" stroke-width="0.85"/>
<path d="M58.60,252.20 L63.30,252.20" fill="none" stroke="#9c9c9c" stroke-width="0.85"/>
<path d="M63.30,247.60 L70.00,247.60" fill="none" stroke="#9c9c9c" stroke-width="0.85"/>
<path d="M63.30,256.20 L70.00,256.20" fill="none" stroke="#9c9c9c" stroke-width="0.85"/>
<path d="M63.30,247.60 L63.30,256.20" fill="none" stroke="#9c9c9c" stroke-width="0.85"/>
<path d="M58.60,285.10 L59.60,285.10" fill="none" stroke="#9c9c9c" stroke-width="0.85"/>
<path d="M59.60,272.00 L59.60,298.40" fill="none" stroke="#9c9c9c" stroke-width="0.85"/>
<path d="M59.60,272.00 L65.30,272.00" fill="none" stroke="#9c9c9c" stroke-width="0.85"/>
<path d="M65.30,265.20 L70.00,265.20" fill="none" stroke="#9c9c9c" stroke-width="0.85"/>
<path d="M65.30,265.20 L65.30,278.50" fill="none" stroke="#9c9c9c" stroke-width="0.85"/>
<path d="M65.30,278.50 L66.30,278.50" fill="none" stroke="#9c9c9c" stroke-width="0.85"/>
<path d="M66.30,274.00 L70.00,274.00" fill="none" stroke="#9c9c9c" stroke-width="0.85"/>
<path d="M66.30,282.60 L70.00,282.60" fill="none" stroke="#9c9c9c" stroke-width="0.85"/>
<path d="M66.30,274.00 L66.30,282.60" fill="none" stroke="#9c9c9c" stroke-width="0.85"/>
<path d="M59.60,298.40 L62.80,298.40" fill="none" stroke="#9c9c9c" stroke-width="0.85"/>
<path d="M62.80,291.30 L70.00,291.30" fill="none" stroke="#9c9c9c" stroke-width="0.85"/>
<path d="M62.80,291.30 L62.80,304.40" fill="none" stroke="#9c9c9c" stroke-width="0.85"/>
<path d="M62.80,304.40 L65.30,304.40" fill="none" stroke="#9c9c9c" stroke-width="0.85"/>
<path d="M65.30,300.20 L70.00,300.20" fill="none" stroke="#9c9c9c" stroke-width="0.85"/>
<path d="M65.30,309.10 L70.00,309.10" fill="none" stroke="#9c9c9c" stroke-width="0.85"/>
<path d="M65.30,300.20 L65.30,309.10" fill="none" stroke="#9c9c9c" stroke-width="0.85"/>
<defs><linearGradient id="cb" x1="0" y1="1" x2="0" y2="0"><stop offset="0.00" stop-color="#343690"/><stop offset="0.10" stop-color="#4874B4"/><stop offset="0.20" stop-color="#76AAD2"/><stop offset="0.30" stop-color="#ACD6E8"/><stop offset="0.40" stop-color="#E0F2F4"/><stop offset="0.50" stop-color="#F5F6C2"/><stop offset="0.60" stop-color="#F2DC8E"/><stop offset="0.70" stop-color="#EEA65A"/><stop offset="0.80" stop-color="#E8643E"/><stop offset="0.90" stop-color="#D4302A"/><stop offset="1.00" stop-color="#A62229"/></linearGradient></defs>
<rect x="312.50" y="52.60" width="8.00" height="131.10" fill="url(#cb)" />
<text transform="translate(325.00,58.40) scale(1.0,1)" font-size="8.000" text-anchor="start" >2</text>
<text transform="translate(325.00,84.80) scale(1.0,1)" font-size="8.000" text-anchor="start" >1</text>
<text transform="translate(325.00,111.20) scale(1.0,1)" font-size="8.000" text-anchor="start" >0</text>
<text transform="translate(325.00,137.60) scale(1.0,1)" font-size="8.000" text-anchor="start" >−1</text>
<text transform="translate(325.00,164.00) scale(1.0,1)" font-size="8.000" text-anchor="start" >−2</text>
<text transform="translate(305.20,198.60) scale(1.0,1)" font-size="8.000" text-anchor="start" >Condition</text>
<rect x="305.20" y="201.60" width="12.50" height="12.90" fill="#74D0D2" stroke="rgba(60,60,60,0.6)" stroke-width="0.6" />
<rect x="305.20" y="214.50" width="12.50" height="12.40" fill="#E88C8C" stroke="rgba(60,60,60,0.6)" stroke-width="0.6" />
<text transform="translate(320.50,211.00) scale(1.0,1)" font-size="8.000" text-anchor="start" >CTRL</text>
<text transform="translate(320.50,223.80) scale(1.0,1)" font-size="8.000" text-anchor="start" >EAE</text>
<text x="1.50" y="8.70" font-size="11.6" text-anchor="start" font-weight="bold" style="stroke-width:0.35px">A</text>
<text x="365.80" y="9.00" font-size="10.4" text-anchor="start" font-weight="bold" >B</text>
<text transform="translate(1.7,388.0) scale(1.08,1)" font-size="10.9" font-weight="bold">C</text>
<text transform="translate(188.7,388.1) scale(1.08,1)" font-size="10.9" font-weight="bold">D</text>
<text transform="translate(366.6,388.1) scale(1.08,1)" font-size="10.9" font-weight="bold">E</text>
<text transform="translate(547.4,388.1) scale(1.08,1)" font-size="10.9" font-weight="bold">F</text>
<line x1="425.10" y1="51.20" x2="425.10" y2="158.00" stroke="#000" stroke-width="1.1" />
<line x1="424.60" y1="157.40" x2="496.30" y2="157.40" stroke="#000" stroke-width="1.1" />
<line x1="422.10" y1="157.40" x2="425.10" y2="157.40" stroke="#000" stroke-width="1.2" />
<text transform="translate(420.10,159.50) scale(0.87,1)" font-size="6.839" text-anchor="end" style="stroke-width:0.08px">0.0000</text>
<line x1="422.10" y1="136.20" x2="425.10" y2="136.20" stroke="#000" stroke-width="1.2" />
<text transform="translate(420.10,138.30) scale(0.87,1)" font-size="6.839" text-anchor="end" style="stroke-width:0.08px">0.0005</text>
<line x1="422.10" y1="115.00" x2="425.10" y2="115.00" stroke="#000" stroke-width="1.2" />
<text transform="translate(420.10,117.10) scale(0.87,1)" font-size="6.839" text-anchor="end" style="stroke-width:0.08px">0.0010</text>
<line x1="422.10" y1="93.80" x2="425.10" y2="93.80" stroke="#000" stroke-width="1.2" />
<text transform="translate(420.10,95.90) scale(0.87,1)" font-size="6.839" text-anchor="end" style="stroke-width:0.08px">0.0015</text>
<line x1="422.10" y1="72.60" x2="425.10" y2="72.60" stroke="#000" stroke-width="1.2" />
<text transform="translate(420.10,74.70) scale(0.87,1)" font-size="6.839" text-anchor="end" style="stroke-width:0.08px">0.0020</text>
<line x1="422.10" y1="51.40" x2="425.10" y2="51.40" stroke="#000" stroke-width="1.2" />
<text transform="translate(420.10,53.50) scale(0.87,1)" font-size="6.839" text-anchor="end" style="stroke-width:0.08px">0.0025</text>
<line x1="439.10" y1="157.40" x2="439.10" y2="160.70" stroke="#000" stroke-width="1.1" />
<line x1="460.10" y1="157.40" x2="460.10" y2="160.70" stroke="#000" stroke-width="1.1" />
<line x1="481.50" y1="157.40" x2="481.50" y2="160.70" stroke="#000" stroke-width="1.1" />
<text transform="translate(437.80,166.70) scale(1.0,1)" font-size="6.950" text-anchor="middle" >CTRL</text>
<text transform="translate(460.90,166.70) scale(1.0,1)" font-size="6.950" text-anchor="middle" >EAE-H</text>
<text transform="translate(484.10,166.70) scale(1.0,1)" font-size="6.950" text-anchor="middle" >EAE-L</text>
<text transform="translate(397.90,106.70) rotate(-90) scale(1.0,1)" font-size="6.400" text-anchor="middle">2^-DCt (Normalized on L34)</text>
<text transform="translate(460.50,29.60) scale(1.0,1)" font-size="7.850" text-anchor="middle" >Ciita</text>
<line x1="441.20" y1="41.60" x2="480.00" y2="41.60" stroke="#222" stroke-width="0.75" />
<text transform="translate(460.25,40.10) scale(0.88,1)" font-size="7.614" text-anchor="middle" style="stroke-width:0.1px">&lt;0.0001</text>
<line x1="437.20" y1="54.40" x2="458.10" y2="54.40" stroke="#222" stroke-width="0.75" />
<text transform="translate(447.20,52.90) scale(0.88,1)" font-size="7.614" text-anchor="middle" style="stroke-width:0.1px">&lt;0.0001</text>
<line x1="464.20" y1="51.40" x2="484.70" y2="51.40" stroke="#222" stroke-width="0.75" />
<text transform="translate(474.80,49.90) scale(0.88,1)" font-size="7.614" text-anchor="middle" style="stroke-width:0.1px">0.0186</text>
<rect x="432.70" y="156.20" width="12.8" height="1.20" fill="#fff" stroke="#000" stroke-width="1.3"/>
<circle cx="434.70" cy="155.90" r="2.15" fill="#000"/>
<circle cx="438.80" cy="155.40" r="2.15" fill="#000"/>
<circle cx="442.40" cy="154.30" r="2.15" fill="#000"/>
<circle cx="443.90" cy="155.90" r="2.15" fill="#000"/>
<rect x="453.70" y="94.60" width="12.8" height="62.80" fill="#fff" stroke="#000" stroke-width="1.3"/>
<line x1="460.10" y1="63.60" x2="460.10" y2="124.00" stroke="#000" stroke-width="1.0" />
<line x1="456.70" y1="63.60" x2="463.50" y2="63.60" stroke="#000" stroke-width="1.1" />
<line x1="456.70" y1="124.00" x2="463.50" y2="124.00" stroke="#000" stroke-width="1.1" />
<circle cx="460.30" cy="58.80" r="2.3" fill="#EE1B1E"/>
<circle cx="457.00" cy="113.80" r="2.3" fill="#EE1B1E"/>
<circle cx="463.50" cy="108.60" r="2.3" fill="#EE1B1E"/>
<rect x="475.10" y="136.60" width="12.8" height="20.80" fill="#fff" stroke="#000" stroke-width="1.3"/>
<line x1="481.50" y1="132.00" x2="481.50" y2="141.20" stroke="#000" stroke-width="1.0" />
<line x1="478.10" y1="132.00" x2="484.90" y2="132.00" stroke="#000" stroke-width="1.1" />
<line x1="478.10" y1="141.20" x2="484.90" y2="141.20" stroke="#000" stroke-width="1.1" />
<circle cx="481.50" cy="131.20" r="2.15" fill="#000"/>
<circle cx="477.80" cy="135.80" r="2.15" fill="#000"/>
<circle cx="485.40" cy="135.80" r="2.15" fill="#000"/>
<circle cx="481.50" cy="139.40" r="2.15" fill="#000"/>
<line x1="572.70" y1="51.10" x2="572.70" y2="157.90" stroke="#000" stroke-width="1.1" />
<line x1="572.20" y1="157.30" x2="643.90" y2="157.30" stroke="#000" stroke-width="1.1" />
<line x1="569.70" y1="157.30" x2="572.70" y2="157.30" stroke="#000" stroke-width="1.2" />
<text transform="translate(567.80,159.40) scale(0.87,1)" font-size="6.839" text-anchor="end" style="stroke-width:0.08px">0.00000</text>
<line x1="569.70" y1="136.10" x2="572.70" y2="136.10" stroke="#000" stroke-width="1.2" />
<text transform="translate(567.80,138.20) scale(0.87,1)" font-size="6.839" text-anchor="end" style="stroke-width:0.08px">0.00005</text>
<line x1="569.70" y1="114.90" x2="572.70" y2="114.90" stroke="#000" stroke-width="1.2" />
<text transform="translate(567.80,117.00) scale(0.87,1)" font-size="6.839" text-anchor="end" style="stroke-width:0.08px">0.00010</text>
<line x1="569.70" y1="93.70" x2="572.70" y2="93.70" stroke="#000" stroke-width="1.2" />
<text transform="translate(567.80,95.80) scale(0.87,1)" font-size="6.839" text-anchor="end" style="stroke-width:0.08px">0.00015</text>
<line x1="569.70" y1="72.50" x2="572.70" y2="72.50" stroke="#000" stroke-width="1.2" />
<text transform="translate(567.80,74.60) scale(0.87,1)" font-size="6.839" text-anchor="end" style="stroke-width:0.08px">0.00020</text>
<line x1="569.70" y1="51.30" x2="572.70" y2="51.30" stroke="#000" stroke-width="1.2" />
<text transform="translate(567.80,53.40) scale(0.87,1)" font-size="6.839" text-anchor="end" style="stroke-width:0.08px">0.00025</text>
<line x1="586.70" y1="157.30" x2="586.70" y2="160.60" stroke="#000" stroke-width="1.1" />
<line x1="607.70" y1="157.30" x2="607.70" y2="160.60" stroke="#000" stroke-width="1.1" />
<line x1="629.10" y1="157.30" x2="629.10" y2="160.60" stroke="#000" stroke-width="1.1" />
<text transform="translate(585.40,166.70) scale(1.0,1)" font-size="6.950" text-anchor="middle" >CTRL</text>
<text transform="translate(608.50,166.70) scale(1.0,1)" font-size="6.950" text-anchor="middle" >EAE-H</text>
<text transform="translate(631.70,166.70) scale(1.0,1)" font-size="6.950" text-anchor="middle" >EAE-L</text>
<text transform="translate(542.30,106.20) rotate(-90) scale(1.0,1)" font-size="6.400" text-anchor="middle">2^-DCt (Normalized on L34)</text>
<text transform="translate(606.60,29.50) scale(1.0,1)" font-size="7.850" text-anchor="middle" >Igtp</text>
<line x1="588.60" y1="41.60" x2="627.90" y2="41.60" stroke="#222" stroke-width="0.75" />
<text transform="translate(606.80,40.10) scale(0.88,1)" font-size="7.614" text-anchor="middle" style="stroke-width:0.1px">0.0028</text>
<line x1="583.80" y1="54.10" x2="604.70" y2="54.10" stroke="#222" stroke-width="0.75" />
<text transform="translate(593.85,52.60) scale(0.88,1)" font-size="7.614" text-anchor="middle" style="stroke-width:0.1px">0.0003</text>
<line x1="610.50" y1="51.20" x2="630.80" y2="51.20" stroke="#222" stroke-width="0.75" />
<text transform="translate(621.00,49.70) scale(0.88,1)" font-size="7.614" text-anchor="middle" style="stroke-width:0.1px">0.0988</text>
<rect x="580.30" y="155.00" width="12.8" height="2.30" fill="#fff" stroke="#000" stroke-width="1.3"/>
<line x1="586.70" y1="148.60" x2="586.70" y2="156.80" stroke="#000" stroke-width="1.0" />
<line x1="583.30" y1="148.60" x2="590.10" y2="148.60" stroke="#000" stroke-width="1.1" />
<line x1="583.30" y1="156.80" x2="590.10" y2="156.80" stroke="#000" stroke-width="1.1" />
<circle cx="586.80" cy="148.20" r="2.15" fill="#000"/>
<circle cx="581.80" cy="154.30" r="2.15" fill="#000"/>
<circle cx="584.90" cy="155.10" r="2.15" fill="#000"/>
<circle cx="591.60" cy="154.80" r="2.15" fill="#000"/>
<rect x="601.30" y="91.90" width="12.8" height="65.40" fill="#fff" stroke="#000" stroke-width="1.3"/>
<line x1="607.70" y1="70.20" x2="607.70" y2="112.40" stroke="#000" stroke-width="1.0" />
<line x1="604.30" y1="70.20" x2="611.10" y2="70.20" stroke="#000" stroke-width="1.1" />
<line x1="604.30" y1="112.40" x2="611.10" y2="112.40" stroke="#000" stroke-width="1.1" />
<circle cx="607.60" cy="73.80" r="2.3" fill="#EE1B1E"/>
<circle cx="607.60" cy="85.40" r="2.3" fill="#EE1B1E"/>
<circle cx="607.80" cy="114.60" r="2.3" fill="#EE1B1E"/>
<rect x="622.70" y="135.10" width="12.8" height="22.20" fill="#fff" stroke="#000" stroke-width="1.3"/>
<line x1="629.10" y1="130.80" x2="629.10" y2="139.80" stroke="#000" stroke-width="1.0" />
<line x1="625.70" y1="130.80" x2="632.50" y2="130.80" stroke="#000" stroke-width="1.1" />
<line x1="625.70" y1="139.80" x2="632.50" y2="139.80" stroke="#000" stroke-width="1.1" />
<circle cx="629.10" cy="129.20" r="2.15" fill="#000"/>
<circle cx="624.40" cy="134.00" r="2.15" fill="#000"/>
<circle cx="632.40" cy="134.60" r="2.15" fill="#000"/>
<circle cx="629.10" cy="138.20" r="2.15" fill="#000"/>
<line x1="424.80" y1="211.20" x2="424.80" y2="318.00" stroke="#000" stroke-width="1.1" />
<line x1="424.30" y1="317.40" x2="496.00" y2="317.40" stroke="#000" stroke-width="1.1" />
<line x1="421.80" y1="317.40" x2="424.80" y2="317.40" stroke="#000" stroke-width="1.2" />
<text transform="translate(420.20,319.50) scale(0.87,1)" font-size="6.839" text-anchor="end" style="stroke-width:0.08px">0.00</text>
<line x1="421.80" y1="282.07" x2="424.80" y2="282.07" stroke="#000" stroke-width="1.2" />
<text transform="translate(420.20,284.17) scale(0.87,1)" font-size="6.839" text-anchor="end" style="stroke-width:0.08px">0.05</text>
<line x1="421.80" y1="246.73" x2="424.80" y2="246.73" stroke="#000" stroke-width="1.2" />
<text transform="translate(420.20,248.83) scale(0.87,1)" font-size="6.839" text-anchor="end" style="stroke-width:0.08px">0.10</text>
<line x1="421.80" y1="211.40" x2="424.80" y2="211.40" stroke="#000" stroke-width="1.2" />
<text transform="translate(420.20,213.50) scale(0.87,1)" font-size="6.839" text-anchor="end" style="stroke-width:0.08px">0.15</text>
<line x1="438.80" y1="317.40" x2="438.80" y2="320.70" stroke="#000" stroke-width="1.1" />
<line x1="459.80" y1="317.40" x2="459.80" y2="320.70" stroke="#000" stroke-width="1.1" />
<line x1="481.20" y1="317.40" x2="481.20" y2="320.70" stroke="#000" stroke-width="1.1" />
<text transform="translate(437.50,327.70) scale(1.0,1)" font-size="6.950" text-anchor="middle" >CTRL</text>
<text transform="translate(460.60,327.70) scale(1.0,1)" font-size="6.950" text-anchor="middle" >EAE-H</text>
<text transform="translate(483.80,327.70) scale(1.0,1)" font-size="6.950" text-anchor="middle" >EAE-L</text>
<text transform="translate(401.60,267.80) rotate(-90) scale(1.0,1)" font-size="6.400" text-anchor="middle">2^-DCt (Normalized on L34)</text>
<text transform="translate(460.40,189.60) scale(1.0,1)" font-size="7.850" text-anchor="middle" >H2-Ab1</text>
<line x1="440.10" y1="202.30" x2="479.10" y2="202.30" stroke="#222" stroke-width="0.75" />
<text transform="translate(460.25,200.80) scale(0.88,1)" font-size="7.614" text-anchor="middle" style="stroke-width:0.1px">&lt;0.0001</text>
<line x1="436.50" y1="215.00" x2="457.20" y2="215.00" stroke="#222" stroke-width="0.75" />
<text transform="translate(446.20,213.50) scale(0.88,1)" font-size="7.614" text-anchor="middle" style="stroke-width:0.1px">&lt;0.0001</text>
<line x1="463.10" y1="212.10" x2="483.90" y2="212.10" stroke="#222" stroke-width="0.75" />
<text transform="translate(473.95,210.60) scale(0.88,1)" font-size="7.614" text-anchor="middle" style="stroke-width:0.1px">0.0081</text>
<rect x="432.40" y="316.20" width="12.8" height="1.20" fill="#fff" stroke="#000" stroke-width="1.3"/>
<circle cx="434.60" cy="315.40" r="2.15" fill="#000"/>
<circle cx="436.60" cy="314.60" r="2.15" fill="#000"/>
<circle cx="441.80" cy="313.60" r="2.15" fill="#000"/>
<circle cx="443.80" cy="315.20" r="2.15" fill="#000"/>
<rect x="453.40" y="249.40" width="12.8" height="68.00" fill="#fff" stroke="#000" stroke-width="1.3"/>
<line x1="459.80" y1="234.70" x2="459.80" y2="263.40" stroke="#000" stroke-width="1.0" />
<line x1="456.40" y1="234.70" x2="463.20" y2="234.70" stroke="#000" stroke-width="1.1" />
<line x1="456.40" y1="263.40" x2="463.20" y2="263.40" stroke="#000" stroke-width="1.1" />
<circle cx="460.10" cy="236.50" r="2.3" fill="#EE1B1E"/>
<circle cx="460.10" cy="245.70" r="2.3" fill="#EE1B1E"/>
<circle cx="460.10" cy="264.10" r="2.3" fill="#EE1B1E"/>
<rect x="474.80" y="289.60" width="12.8" height="27.80" fill="#fff" stroke="#000" stroke-width="1.3"/>
<line x1="481.20" y1="285.00" x2="481.20" y2="293.50" stroke="#000" stroke-width="1.0" />
<line x1="477.80" y1="285.00" x2="484.60" y2="285.00" stroke="#000" stroke-width="1.1" />
<line x1="477.80" y1="293.50" x2="484.60" y2="293.50" stroke="#000" stroke-width="1.1" />
<circle cx="481.60" cy="284.00" r="2.15" fill="#000"/>
<circle cx="477.40" cy="288.20" r="2.15" fill="#000"/>
<circle cx="485.60" cy="289.30" r="2.15" fill="#000"/>
<circle cx="481.20" cy="293.80" r="2.15" fill="#000"/>
<line x1="571.50" y1="211.30" x2="571.50" y2="318.10" stroke="#000" stroke-width="1.1" />
<line x1="571.00" y1="317.50" x2="642.70" y2="317.50" stroke="#000" stroke-width="1.1" />
<line x1="568.50" y1="317.50" x2="571.50" y2="317.50" stroke="#000" stroke-width="1.2" />
<text transform="translate(566.80,319.60) scale(0.87,1)" font-size="6.839" text-anchor="end" style="stroke-width:0.08px">0.00</text>
<line x1="568.50" y1="291.00" x2="571.50" y2="291.00" stroke="#000" stroke-width="1.2" />
<text transform="translate(566.80,293.10) scale(0.87,1)" font-size="6.839" text-anchor="end" style="stroke-width:0.08px">0.02</text>
<line x1="568.50" y1="264.50" x2="571.50" y2="264.50" stroke="#000" stroke-width="1.2" />
<text transform="translate(566.80,266.60) scale(0.87,1)" font-size="6.839" text-anchor="end" style="stroke-width:0.08px">0.04</text>
<line x1="568.50" y1="238.00" x2="571.50" y2="238.00" stroke="#000" stroke-width="1.2" />
<text transform="translate(566.80,240.10) scale(0.87,1)" font-size="6.839" text-anchor="end" style="stroke-width:0.08px">0.06</text>
<line x1="568.50" y1="211.50" x2="571.50" y2="211.50" stroke="#000" stroke-width="1.2" />
<text transform="translate(566.80,213.60) scale(0.87,1)" font-size="6.839" text-anchor="end" style="stroke-width:0.08px">0.08</text>
<line x1="585.50" y1="317.50" x2="585.50" y2="320.80" stroke="#000" stroke-width="1.1" />
<line x1="606.50" y1="317.50" x2="606.50" y2="320.80" stroke="#000" stroke-width="1.1" />
<line x1="627.90" y1="317.50" x2="627.90" y2="320.80" stroke="#000" stroke-width="1.1" />
<text transform="translate(584.20,328.00) scale(1.0,1)" font-size="6.950" text-anchor="middle" >CTRL</text>
<text transform="translate(607.30,328.00) scale(1.0,1)" font-size="6.950" text-anchor="middle" >EAE-H</text>
<text transform="translate(630.50,328.00) scale(1.0,1)" font-size="6.950" text-anchor="middle" >EAE-L</text>
<text transform="translate(548.20,268.00) rotate(-90) scale(1.0,1)" font-size="6.400" text-anchor="middle">2^-DCt (Normalized on L34)</text>
<text transform="translate(607.20,189.00) scale(1.0,1)" font-size="7.850" text-anchor="middle" >H2-Eb1</text>
<line x1="586.70" y1="202.40" x2="625.80" y2="202.40" stroke="#222" stroke-width="0.75" />
<text transform="translate(605.85,200.90) scale(0.88,1)" font-size="7.614" text-anchor="middle" style="stroke-width:0.1px">&lt;0.0001</text>
<line x1="583.10" y1="215.60" x2="603.80" y2="215.60" stroke="#222" stroke-width="0.75" />
<text transform="translate(592.15,214.10) scale(0.88,1)" font-size="7.614" text-anchor="middle" style="stroke-width:0.1px">&lt;0.0001</text>
<line x1="609.80" y1="212.70" x2="630.80" y2="212.70" stroke="#222" stroke-width="0.75" />
<text transform="translate(620.45,211.20) scale(0.88,1)" font-size="7.614" text-anchor="middle" style="stroke-width:0.1px">0.0437</text>
<rect x="579.10" y="316.40" width="12.8" height="1.10" fill="#fff" stroke="#000" stroke-width="1.3"/>
<circle cx="580.80" cy="315.60" r="2.15" fill="#000"/>
<circle cx="584.60" cy="314.90" r="2.15" fill="#000"/>
<circle cx="588.60" cy="314.20" r="2.15" fill="#000"/>
<circle cx="590.80" cy="315.60" r="2.15" fill="#000"/>
<rect x="600.10" y="247.40" width="12.8" height="70.10" fill="#fff" stroke="#000" stroke-width="1.3"/>
<line x1="606.50" y1="226.40" x2="606.50" y2="267.20" stroke="#000" stroke-width="1.0" />
<line x1="603.10" y1="226.40" x2="609.90" y2="226.40" stroke="#000" stroke-width="1.1" />
<line x1="603.10" y1="267.20" x2="609.90" y2="267.20" stroke="#000" stroke-width="1.1" />
<circle cx="606.70" cy="229.70" r="2.3" fill="#EE1B1E"/>
<circle cx="606.70" cy="241.40" r="2.3" fill="#EE1B1E"/>
<circle cx="606.80" cy="269.30" r="2.3" fill="#EE1B1E"/>
<rect x="621.50" y="285.10" width="12.8" height="32.40" fill="#fff" stroke="#000" stroke-width="1.3"/>
<line x1="627.90" y1="274.40" x2="627.90" y2="294.20" stroke="#000" stroke-width="1.0" />
<line x1="624.50" y1="274.40" x2="631.30" y2="274.40" stroke="#000" stroke-width="1.1" />
<line x1="624.50" y1="294.20" x2="631.30" y2="294.20" stroke="#000" stroke-width="1.1" />
<circle cx="628.10" cy="272.70" r="2.15" fill="#000"/>
<circle cx="624.30" cy="282.20" r="2.15" fill="#000"/>
<circle cx="631.60" cy="285.60" r="2.15" fill="#000"/>
<circle cx="628.10" cy="296.50" r="2.15" fill="#000"/>
<rect x="116.30" y="425.30" width="18.30" height="7.90" fill="#D5231F" />
<line x1="113.90" y1="429.20" x2="116.30" y2="429.20" stroke="#000" stroke-width="0.8" />
<text transform="translate(112.00,431.50) scale(0.88,1)" font-size="7.045" text-anchor="end" >Inflammatory Response</text>
<rect x="116.30" y="435.60" width="19.70" height="7.90" fill="#D5231F" />
<line x1="113.90" y1="439.50" x2="116.30" y2="439.50" stroke="#000" stroke-width="0.8" />
<text transform="translate(112.00,441.80) scale(0.88,1)" font-size="7.045" text-anchor="end" >Granulocyte Chemotaxis</text>
<rect x="116.30" y="445.90" width="19.70" height="7.90" fill="#D5231F" />
<line x1="113.90" y1="449.80" x2="116.30" y2="449.80" stroke="#000" stroke-width="0.8" />
<text transform="translate(112.00,452.10) scale(0.88,1)" font-size="7.045" text-anchor="end" >Positive Regulation Of T Cell Activation</text>
<rect x="116.30" y="456.20" width="19.90" height="7.90" fill="#D5231F" />
<line x1="113.90" y1="460.10" x2="116.30" y2="460.10" stroke="#000" stroke-width="0.8" />
<text transform="translate(112.00,462.40) scale(0.88,1)" font-size="7.045" text-anchor="end" >Positive Regulation Of T Cell Migration</text>
<rect x="116.30" y="466.50" width="19.90" height="7.90" fill="#D5231F" />
<line x1="113.90" y1="470.40" x2="116.30" y2="470.40" stroke="#000" stroke-width="0.8" />
<text transform="translate(112.00,472.70) scale(0.88,1)" font-size="7.045" text-anchor="end" >Neutrophil Chemotaxis</text>
<rect x="116.30" y="476.80" width="21.00" height="7.90" fill="#D5231F" />
<line x1="113.90" y1="480.70" x2="116.30" y2="480.70" stroke="#000" stroke-width="0.8" />
<text transform="translate(112.00,483.00) scale(0.88,1)" font-size="7.045" text-anchor="end" >Cellular Response To Chemokine</text>
<rect x="116.30" y="487.10" width="21.00" height="7.90" fill="#D5231F" />
<line x1="113.90" y1="491.00" x2="116.30" y2="491.00" stroke="#000" stroke-width="0.8" />
<text transform="translate(112.00,493.30) scale(0.88,1)" font-size="7.045" text-anchor="end" >Cellular Response To LPS</text>
<rect x="116.30" y="497.40" width="20.70" height="7.90" fill="#D5231F" />
<line x1="113.90" y1="501.30" x2="116.30" y2="501.30" stroke="#000" stroke-width="0.8" />
<text transform="translate(112.00,503.60) scale(0.88,1)" font-size="7.045" text-anchor="end" >Chemokine-Mediated Signaling Pathway</text>
<rect x="116.30" y="507.70" width="24.70" height="7.90" fill="#D5231F" />
<line x1="113.90" y1="511.60" x2="116.30" y2="511.60" stroke="#000" stroke-width="0.8" />
<text transform="translate(112.00,513.90) scale(0.88,1)" font-size="7.045" text-anchor="end" >Cellular Response To IFN II</text>
<rect x="116.30" y="518.00" width="38.80" height="7.90" fill="#D5231F" />
<line x1="113.90" y1="521.90" x2="116.30" y2="521.90" stroke="#000" stroke-width="0.8" />
<text transform="translate(112.00,524.20) scale(0.88,1)" font-size="7.045" text-anchor="end" >Response To IFN II</text>
<line x1="116.30" y1="422.40" x2="116.30" y2="529.00" stroke="#000" stroke-width="1.1" />
<line x1="115.80" y1="528.40" x2="172.09" y2="528.40" stroke="#000" stroke-width="1.1" />
<line x1="116.30" y1="528.40" x2="116.30" y2="531.60" stroke="#000" stroke-width="1.0" />
<text transform="translate(116.30,537.80) scale(1.0,1)" font-size="5.100" text-anchor="middle" >0</text>
<line x1="134.73" y1="528.40" x2="134.73" y2="531.60" stroke="#000" stroke-width="1.0" />
<text transform="translate(134.73,537.80) scale(1.0,1)" font-size="5.100" text-anchor="middle" >5</text>
<line x1="153.16" y1="528.40" x2="153.16" y2="531.60" stroke="#000" stroke-width="1.0" />
<text transform="translate(153.16,537.80) scale(1.0,1)" font-size="5.100" text-anchor="middle" >10</text>
<line x1="171.59" y1="528.40" x2="171.59" y2="531.60" stroke="#000" stroke-width="1.0" />
<text transform="translate(171.59,537.80) scale(1.0,1)" font-size="5.100" text-anchor="middle" >15</text>
<text transform="translate(142.04,547.4) scale(1.0,1)" font-size="5.350" text-anchor="middle">-log<tspan font-size="3.700" dy="2.5">10</tspan><tspan dy="-2.5"> adj p value</tspan></text>
<text transform="translate(95.30,398.8) scale(0.82,1)" font-size="9.024" text-anchor="middle">GO Biological Process 2023</text>
<text transform="translate(96.40,409.00) scale(1.0,1)" font-size="6.270" text-anchor="middle" >(Top 100 EAE DEGs)</text>
<rect x="291.40" y="425.30" width="26.50" height="7.90" fill="#D5231F" />
<line x1="289.00" y1="429.20" x2="291.40" y2="429.20" stroke="#000" stroke-width="0.8" />
<text transform="translate(287.10,431.50) scale(0.88,1)" font-size="7.250" text-anchor="end" >CXCR Chemokine Receptor Binding</text>
<rect x="291.40" y="435.60" width="27.00" height="7.90" fill="#D5231F" />
<line x1="289.00" y1="439.50" x2="291.40" y2="439.50" stroke="#000" stroke-width="0.8" />
<text transform="translate(287.10,441.80) scale(0.88,1)" font-size="7.250" text-anchor="end" >Oxidoreductase Activity</text>
<rect x="291.40" y="445.90" width="27.00" height="7.90" fill="#D5231F" />
<line x1="289.00" y1="449.80" x2="291.40" y2="449.80" stroke="#000" stroke-width="0.8" />
<text transform="translate(287.10,452.10) scale(0.88,1)" font-size="7.250" text-anchor="end" >Phospholipase Activator Activity</text>
<rect x="291.40" y="456.20" width="31.20" height="7.90" fill="#D5231F" />
<line x1="289.00" y1="460.10" x2="291.40" y2="460.10" stroke="#000" stroke-width="0.8" />
<text transform="translate(287.10,462.40) scale(0.88,1)" font-size="7.250" text-anchor="end" >MHC Class II Protein Binding</text>
<rect x="291.40" y="466.50" width="33.20" height="7.90" fill="#D5231F" />
<line x1="289.00" y1="470.40" x2="291.40" y2="470.40" stroke="#000" stroke-width="0.8" />
<text transform="translate(287.10,472.70) scale(0.88,1)" font-size="7.250" text-anchor="end" >Superoxide-Oxidase Activity</text>
<rect x="291.40" y="476.80" width="36.20" height="7.90" fill="#D5231F" />
<line x1="289.00" y1="480.70" x2="291.40" y2="480.70" stroke="#000" stroke-width="0.8" />
<text transform="translate(287.10,483.00) scale(0.88,1)" font-size="7.250" text-anchor="end" >MHC Protein Binding</text>
<rect x="291.40" y="487.10" width="48.10" height="7.90" fill="#D5231F" />
<line x1="289.00" y1="491.00" x2="291.40" y2="491.00" stroke="#000" stroke-width="0.8" />
<text transform="translate(287.10,493.30) scale(0.88,1)" font-size="7.250" text-anchor="end" >Cytokine Activity</text>
<rect x="291.40" y="497.40" width="53.60" height="7.90" fill="#D5231F" />
<line x1="289.00" y1="501.30" x2="291.40" y2="501.30" stroke="#000" stroke-width="0.8" />
<text transform="translate(287.10,503.60) scale(0.88,1)" font-size="7.250" text-anchor="end" >Chemokine Receptor Binding</text>
<rect x="291.40" y="507.70" width="54.80" height="7.90" fill="#D5231F" />
<line x1="289.00" y1="511.60" x2="291.40" y2="511.60" stroke="#000" stroke-width="0.8" />
<text transform="translate(287.10,513.90) scale(0.88,1)" font-size="7.250" text-anchor="end" >Chemokine Activity</text>
<rect x="291.40" y="518.00" width="59.80" height="7.90" fill="#D5231F" />
<line x1="289.00" y1="521.90" x2="291.40" y2="521.90" stroke="#000" stroke-width="0.8" />
<text transform="translate(287.10,524.20) scale(0.88,1)" font-size="7.250" text-anchor="end" >CCR Chemokine Receptor Binding</text>
<line x1="291.40" y1="422.40" x2="291.40" y2="529.00" stroke="#000" stroke-width="1.1" />
<line x1="290.90" y1="528.40" x2="357.90" y2="528.40" stroke="#000" stroke-width="1.1" />
<line x1="291.40" y1="528.40" x2="291.40" y2="531.60" stroke="#000" stroke-width="1.0" />
<text transform="translate(291.40,537.80) scale(1.0,1)" font-size="5.100" text-anchor="middle" >0</text>
<line x1="304.60" y1="528.40" x2="304.60" y2="531.60" stroke="#000" stroke-width="1.0" />
<text transform="translate(304.60,537.80) scale(1.0,1)" font-size="5.100" text-anchor="middle" >1</text>
<line x1="317.80" y1="528.40" x2="317.80" y2="531.60" stroke="#000" stroke-width="1.0" />
<text transform="translate(317.80,537.80) scale(1.0,1)" font-size="5.100" text-anchor="middle" >2</text>
<line x1="331.00" y1="528.40" x2="331.00" y2="531.60" stroke="#000" stroke-width="1.0" />
<text transform="translate(331.00,537.80) scale(1.0,1)" font-size="5.100" text-anchor="middle" >3</text>
<line x1="344.20" y1="528.40" x2="344.20" y2="531.60" stroke="#000" stroke-width="1.0" />
<text transform="translate(344.20,537.80) scale(1.0,1)" font-size="5.100" text-anchor="middle" >4</text>
<line x1="357.40" y1="528.40" x2="357.40" y2="531.60" stroke="#000" stroke-width="1.0" />
<text transform="translate(357.40,537.80) scale(1.0,1)" font-size="5.100" text-anchor="middle" >5</text>
<text transform="translate(322.50,547.4) scale(1.0,1)" font-size="5.350" text-anchor="middle">-log<tspan font-size="3.700" dy="2.5">10</tspan><tspan dy="-2.5"> adj p value</tspan></text>
<text transform="translate(269.25,398.8) scale(0.82,1)" font-size="9.024" text-anchor="middle">GO Molecular Function 2023</text>
<text transform="translate(269.55,409.00) scale(1.0,1)" font-size="6.270" text-anchor="middle" >(Top 100 EAE DEGs)</text>
<rect x="431.40" y="425.30" width="4.80" height="7.90" fill="#D5231F" />
<line x1="429.00" y1="429.20" x2="431.40" y2="429.20" stroke="#000" stroke-width="0.8" />
<text transform="translate(427.10,431.50) scale(0.88,1)" font-size="7.159" text-anchor="end" >Apoptosis</text>
<rect x="431.40" y="435.60" width="6.50" height="7.90" fill="#D5231F" />
<line x1="429.00" y1="439.50" x2="431.40" y2="439.50" stroke="#000" stroke-width="0.8" />
<text transform="translate(427.10,441.80) scale(0.88,1)" font-size="7.159" text-anchor="end" >IL-2/STAT5 Signaling</text>
<rect x="431.40" y="445.90" width="9.20" height="7.90" fill="#D5231F" />
<line x1="429.00" y1="449.80" x2="431.40" y2="449.80" stroke="#000" stroke-width="0.8" />
<text transform="translate(427.10,452.10) scale(0.88,1)" font-size="7.159" text-anchor="end" >TNFα Signaling via NF-kB</text>
<rect x="431.40" y="456.20" width="9.60" height="7.90" fill="#D5231F" />
<line x1="429.00" y1="460.10" x2="431.40" y2="460.10" stroke="#000" stroke-width="0.8" />
<text transform="translate(427.10,462.40) scale(0.88,1)" font-size="7.159" text-anchor="end" >KRAS Signaling Up</text>
<rect x="431.40" y="466.50" width="9.20" height="7.90" fill="#D5231F" />
<line x1="429.00" y1="470.40" x2="431.40" y2="470.40" stroke="#000" stroke-width="0.8" />
<text transform="translate(427.10,472.70) scale(0.88,1)" font-size="7.159" text-anchor="end" >Complement</text>
<rect x="431.40" y="476.80" width="11.00" height="7.90" fill="#D5231F" />
<line x1="429.00" y1="480.70" x2="431.40" y2="480.70" stroke="#000" stroke-width="0.8" />
<text transform="translate(427.10,483.00) scale(0.88,1)" font-size="7.159" text-anchor="end" >IL-6/JAK/STAT3 Signaling</text>
<rect x="431.40" y="487.10" width="12.50" height="7.90" fill="#D5231F" />
<line x1="429.00" y1="491.00" x2="431.40" y2="491.00" stroke="#000" stroke-width="0.8" />
<text transform="translate(427.10,493.30) scale(0.88,1)" font-size="7.159" text-anchor="end" >Inflammatory Response</text>
<rect x="431.40" y="497.40" width="31.90" height="7.90" fill="#D5231F" />
<line x1="429.00" y1="501.30" x2="431.40" y2="501.30" stroke="#000" stroke-width="0.8" />
<text transform="translate(427.10,503.60) scale(0.88,1)" font-size="7.159" text-anchor="end" >INFα Response</text>
<rect x="431.40" y="507.70" width="40.50" height="7.90" fill="#D5231F" />
<line x1="429.00" y1="511.60" x2="431.40" y2="511.60" stroke="#000" stroke-width="0.8" />
<text transform="translate(427.10,513.90) scale(0.88,1)" font-size="7.159" text-anchor="end" >Allograft Rejection</text>
<rect x="431.40" y="518.00" width="56.40" height="7.90" fill="#D5231F" />
<line x1="429.00" y1="521.90" x2="431.40" y2="521.90" stroke="#000" stroke-width="0.8" />
<text transform="translate(427.10,524.20) scale(0.88,1)" font-size="7.159" text-anchor="end" >INFγ Response</text>
<line x1="431.40" y1="422.40" x2="431.40" y2="529.00" stroke="#000" stroke-width="1.1" />
<line x1="430.90" y1="528.40" x2="498.90" y2="528.40" stroke="#000" stroke-width="1.1" />
<line x1="431.40" y1="528.40" x2="431.40" y2="531.60" stroke="#000" stroke-width="1.0" />
<text transform="translate(431.40,537.80) scale(1.0,1)" font-size="5.100" text-anchor="middle" >0</text>
<line x1="448.15" y1="528.40" x2="448.15" y2="531.60" stroke="#000" stroke-width="1.0" />
<text transform="translate(448.15,537.80) scale(1.0,1)" font-size="5.100" text-anchor="middle" >5</text>
<line x1="464.90" y1="528.40" x2="464.90" y2="531.60" stroke="#000" stroke-width="1.0" />
<text transform="translate(464.90,537.80) scale(1.0,1)" font-size="5.100" text-anchor="middle" >10</text>
<line x1="481.65" y1="528.40" x2="481.65" y2="531.60" stroke="#000" stroke-width="1.0" />
<text transform="translate(481.65,537.80) scale(1.0,1)" font-size="5.100" text-anchor="middle" >15</text>
<line x1="498.40" y1="528.40" x2="498.40" y2="531.60" stroke="#000" stroke-width="1.0" />
<text transform="translate(498.40,537.80) scale(1.0,1)" font-size="5.100" text-anchor="middle" >20</text>
<text transform="translate(463.00,547.4) scale(1.0,1)" font-size="5.350" text-anchor="middle">-log<tspan font-size="3.700" dy="2.5">10</tspan><tspan dy="-2.5"> adj p value</tspan></text>
<text transform="translate(439.40,398.8) scale(0.82,1)" font-size="9.024" text-anchor="middle">MSigDB Hallmark 2020</text>
<text transform="translate(440.40,409.00) scale(1.0,1)" font-size="6.270" text-anchor="middle" >(Top 100 EAE DEGs)</text>
<rect x="614.40" y="425.30" width="13.60" height="7.90" fill="#D5231F" />
<line x1="612.00" y1="429.20" x2="614.40" y2="429.20" stroke="#000" stroke-width="0.8" />
<text transform="translate(610.10,431.50) scale(0.88,1)" font-size="7.307" text-anchor="end" >Microglial Cell Hippocampus Mouse</text>
<rect x="614.40" y="435.60" width="15.30" height="7.90" fill="#D5231F" />
<line x1="612.00" y1="439.50" x2="614.40" y2="439.50" stroke="#000" stroke-width="0.8" />
<text transform="translate(610.10,441.80) scale(0.88,1)" font-size="7.307" text-anchor="end" >Macrophage Kidney Mouse</text>
<rect x="614.40" y="445.90" width="17.00" height="7.90" fill="#D5231F" />
<line x1="612.00" y1="449.80" x2="614.40" y2="449.80" stroke="#000" stroke-width="0.8" />
<text transform="translate(610.10,452.10) scale(0.88,1)" font-size="7.307" text-anchor="end" >Macrophage Undefined Human</text>
<rect x="614.40" y="456.20" width="17.00" height="7.90" fill="#D5231F" />
<line x1="612.00" y1="460.10" x2="614.40" y2="460.10" stroke="#000" stroke-width="0.8" />
<text transform="translate(610.10,462.40) scale(0.88,1)" font-size="7.307" text-anchor="end" >Macrophage Brain Human</text>
<rect x="614.40" y="466.50" width="23.50" height="7.90" fill="#D5231F" />
<line x1="612.00" y1="470.40" x2="614.40" y2="470.40" stroke="#000" stroke-width="0.8" />
<text transform="translate(610.10,472.70) scale(0.88,1)" font-size="7.307" text-anchor="end" >Microglial Cell Brain Human</text>
<rect x="614.40" y="476.80" width="26.20" height="7.90" fill="#D5231F" />
<line x1="612.00" y1="480.70" x2="614.40" y2="480.70" stroke="#000" stroke-width="0.8" />
<text transform="translate(610.10,483.00) scale(0.88,1)" font-size="7.307" text-anchor="end" >Monocyte Fetal Kidney Human</text>
<rect x="614.40" y="487.10" width="27.20" height="7.90" fill="#D5231F" />
<line x1="612.00" y1="491.00" x2="614.40" y2="491.00" stroke="#000" stroke-width="0.8" />
<text transform="translate(610.10,493.30) scale(0.88,1)" font-size="7.307" text-anchor="end" >Macrophage Skin Mouse</text>
<rect x="614.40" y="497.40" width="28.60" height="7.90" fill="#D5231F" />
<line x1="612.00" y1="501.30" x2="614.40" y2="501.30" stroke="#000" stroke-width="0.8" />
<text transform="translate(610.10,503.60) scale(0.88,1)" font-size="7.307" text-anchor="end" >Microglial Cell Embryonic PFC Human</text>
<rect x="614.40" y="507.70" width="33.00" height="7.90" fill="#D5231F" />
<line x1="612.00" y1="511.60" x2="614.40" y2="511.60" stroke="#000" stroke-width="0.8" />
<text transform="translate(610.10,513.90) scale(0.88,1)" font-size="7.307" text-anchor="end" >Microglial Cell Brain Mouse</text>
<rect x="614.40" y="518.00" width="58.70" height="7.90" fill="#D5231F" />
<line x1="612.00" y1="521.90" x2="614.40" y2="521.90" stroke="#000" stroke-width="0.8" />
<text transform="translate(610.10,524.20) scale(0.88,1)" font-size="7.307" text-anchor="end" >Paneth Cell Large Intestine Human</text>
<line x1="614.40" y1="422.40" x2="614.40" y2="529.00" stroke="#000" stroke-width="1.1" />
<line x1="613.90" y1="528.40" x2="680.90" y2="528.40" stroke="#000" stroke-width="1.1" />
<line x1="614.40" y1="528.40" x2="614.40" y2="531.60" stroke="#000" stroke-width="1.0" />
<text transform="translate(614.40,537.80) scale(1.0,1)" font-size="5.100" text-anchor="middle" >0</text>
<line x1="627.60" y1="528.40" x2="627.60" y2="531.60" stroke="#000" stroke-width="1.0" />
<text transform="translate(627.60,537.80) scale(1.0,1)" font-size="5.100" text-anchor="middle" >5</text>
<line x1="640.80" y1="528.40" x2="640.80" y2="531.60" stroke="#000" stroke-width="1.0" />
<text transform="translate(640.80,537.80) scale(1.0,1)" font-size="5.100" text-anchor="middle" >10</text>
<line x1="654.00" y1="528.40" x2="654.00" y2="531.60" stroke="#000" stroke-width="1.0" />
<text transform="translate(654.00,537.80) scale(1.0,1)" font-size="5.100" text-anchor="middle" >15</text>
<line x1="667.20" y1="528.40" x2="667.20" y2="531.60" stroke="#000" stroke-width="1.0" />
<text transform="translate(667.20,537.80) scale(1.0,1)" font-size="5.100" text-anchor="middle" >20</text>
<line x1="680.40" y1="528.40" x2="680.40" y2="531.60" stroke="#000" stroke-width="1.0" />
<text transform="translate(680.40,537.80) scale(1.0,1)" font-size="5.100" text-anchor="middle" >25</text>
<text transform="translate(645.50,547.4) scale(1.0,1)" font-size="5.350" text-anchor="middle">-log<tspan font-size="3.700" dy="2.5">10</tspan><tspan dy="-2.5"> adj p value</tspan></text>
<text transform="translate(617.50,398.8) scale(0.82,1)" font-size="9.024" text-anchor="middle">CellMarker 2024</text>
<text transform="translate(618.20,409.00) scale(1.0,1)" font-size="6.270" text-anchor="middle" >(Top 100 EAE DEGs)</text>
</svg>
</body></html>
